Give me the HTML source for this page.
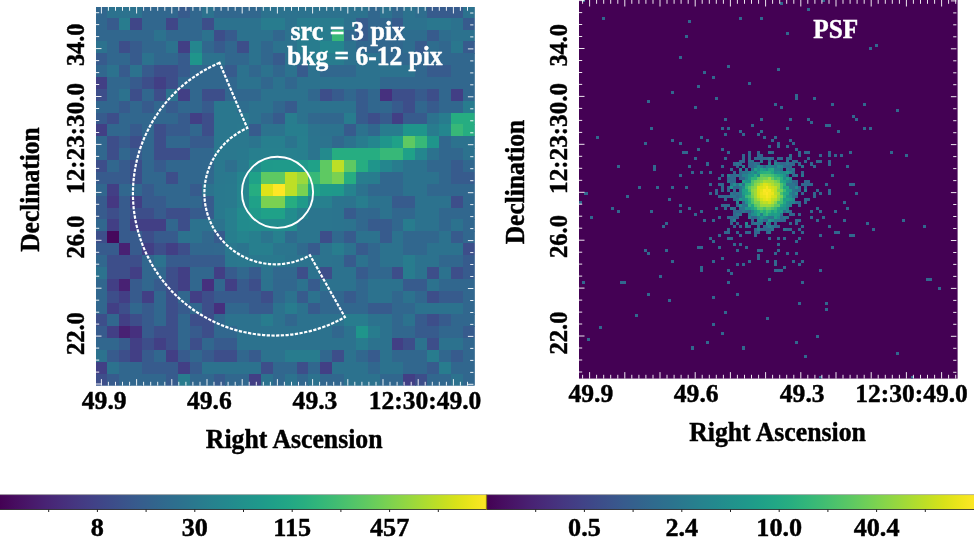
<!DOCTYPE html>
<html><head><meta charset="utf-8"><title>PSF comparison</title>
<style>html,body{margin:0;padding:0;background:#fff}svg{display:block}text{font-family:"Liberation Serif",serif;font-weight:bold}</style></head>
<body>
<svg width="974" height="537" viewBox="0 0 974 537">
<defs>
<clipPath id="cl"><rect x="96" y="7" width="378.6" height="378.6"/></clipPath>
<clipPath id="cr"><rect x="579" y="0" width="378.6" height="378.6"/></clipPath>
<linearGradient id="vg" x1="0" y1="0" x2="1" y2="0"><stop offset="0.0000" stop-color="#440154"/><stop offset="0.0312" stop-color="#470d60"/><stop offset="0.0625" stop-color="#48186a"/><stop offset="0.0938" stop-color="#482374"/><stop offset="0.1250" stop-color="#472d7b"/><stop offset="0.1562" stop-color="#453781"/><stop offset="0.1875" stop-color="#424086"/><stop offset="0.2188" stop-color="#3e4989"/><stop offset="0.2500" stop-color="#3b528b"/><stop offset="0.2812" stop-color="#375b8d"/><stop offset="0.3125" stop-color="#33638d"/><stop offset="0.3438" stop-color="#2f6b8e"/><stop offset="0.3750" stop-color="#2c728e"/><stop offset="0.4062" stop-color="#297a8e"/><stop offset="0.4375" stop-color="#26828e"/><stop offset="0.4688" stop-color="#23898e"/><stop offset="0.5000" stop-color="#21918c"/><stop offset="0.5312" stop-color="#1f988b"/><stop offset="0.5625" stop-color="#1fa088"/><stop offset="0.5938" stop-color="#22a785"/><stop offset="0.6250" stop-color="#28ae80"/><stop offset="0.6562" stop-color="#32b67a"/><stop offset="0.6875" stop-color="#3fbc73"/><stop offset="0.7188" stop-color="#4ec36b"/><stop offset="0.7500" stop-color="#5ec962"/><stop offset="0.7812" stop-color="#70cf57"/><stop offset="0.8125" stop-color="#84d44b"/><stop offset="0.8438" stop-color="#98d83e"/><stop offset="0.8750" stop-color="#addc30"/><stop offset="0.9062" stop-color="#c2df23"/><stop offset="0.9375" stop-color="#d8e219"/><stop offset="0.9688" stop-color="#ece51b"/><stop offset="1.0000" stop-color="#fde725"/></linearGradient>
</defs>
<rect width="974" height="537" fill="#fff"/>
<g clip-path="url(#cl)" shape-rendering="crispEdges">
<rect x="96" y="7" width="379" height="379" fill="#31668e"/>
<rect x="94.83" y="5.76" width="12.17" height="12.17" fill="#31678e"/>
<rect x="106.70" y="5.76" width="12.17" height="12.17" fill="#2c728e"/>
<rect x="118.57" y="5.76" width="12.17" height="12.17" fill="#2c728e"/>
<rect x="130.44" y="5.76" width="12.17" height="12.17" fill="#2c728e"/>
<rect x="142.31" y="5.76" width="12.17" height="12.17" fill="#31678e"/>
<rect x="154.18" y="5.76" width="12.17" height="12.17" fill="#31678e"/>
<rect x="166.05" y="5.76" width="12.17" height="12.17" fill="#31678e"/>
<rect x="177.92" y="5.76" width="12.17" height="12.17" fill="#375b8d"/>
<rect x="189.79" y="5.76" width="12.17" height="12.17" fill="#31678e"/>
<rect x="201.66" y="5.76" width="12.17" height="12.17" fill="#2c728e"/>
<rect x="213.53" y="5.76" width="12.17" height="12.17" fill="#31678e"/>
<rect x="225.40" y="5.76" width="12.17" height="12.17" fill="#31678e"/>
<rect x="237.27" y="5.76" width="12.17" height="12.17" fill="#31678e"/>
<rect x="249.14" y="5.76" width="12.17" height="12.17" fill="#31678e"/>
<rect x="261.01" y="5.76" width="12.17" height="12.17" fill="#2c728e"/>
<rect x="272.88" y="5.76" width="12.17" height="12.17" fill="#2c728e"/>
<rect x="284.75" y="5.76" width="12.17" height="12.17" fill="#2c728e"/>
<rect x="296.62" y="5.76" width="12.17" height="12.17" fill="#2c728e"/>
<rect x="308.49" y="5.76" width="12.17" height="12.17" fill="#2c728e"/>
<rect x="320.36" y="5.76" width="12.17" height="12.17" fill="#2c728e"/>
<rect x="332.23" y="5.76" width="12.17" height="12.17" fill="#2c728e"/>
<rect x="344.10" y="5.76" width="12.17" height="12.17" fill="#2c728e"/>
<rect x="355.97" y="5.76" width="12.17" height="12.17" fill="#2c728e"/>
<rect x="367.84" y="5.76" width="12.17" height="12.17" fill="#31678e"/>
<rect x="379.71" y="5.76" width="12.17" height="12.17" fill="#2c728e"/>
<rect x="391.58" y="5.76" width="12.17" height="12.17" fill="#31678e"/>
<rect x="403.45" y="5.76" width="12.17" height="12.17" fill="#2c728e"/>
<rect x="415.32" y="5.76" width="12.17" height="12.17" fill="#2e6d8e"/>
<rect x="427.19" y="5.76" width="12.17" height="12.17" fill="#375b8d"/>
<rect x="439.06" y="5.76" width="12.17" height="12.17" fill="#375b8d"/>
<rect x="450.93" y="5.76" width="12.17" height="12.17" fill="#375b8d"/>
<rect x="462.80" y="5.76" width="12.17" height="12.17" fill="#2c728e"/>
<rect x="94.83" y="17.63" width="12.17" height="12.17" fill="#31678e"/>
<rect x="106.70" y="17.63" width="12.17" height="12.17" fill="#375b8d"/>
<rect x="118.57" y="17.63" width="12.17" height="12.17" fill="#287c8e"/>
<rect x="130.44" y="17.63" width="12.17" height="12.17" fill="#404688"/>
<rect x="142.31" y="17.63" width="12.17" height="12.17" fill="#31678e"/>
<rect x="154.18" y="17.63" width="12.17" height="12.17" fill="#31678e"/>
<rect x="166.05" y="17.63" width="12.17" height="12.17" fill="#404688"/>
<rect x="177.92" y="17.63" width="12.17" height="12.17" fill="#31678e"/>
<rect x="189.79" y="17.63" width="12.17" height="12.17" fill="#31678e"/>
<rect x="201.66" y="17.63" width="12.17" height="12.17" fill="#3d4e8a"/>
<rect x="213.53" y="17.63" width="12.17" height="12.17" fill="#2c728e"/>
<rect x="225.40" y="17.63" width="12.17" height="12.17" fill="#2c728e"/>
<rect x="237.27" y="17.63" width="12.17" height="12.17" fill="#2c728e"/>
<rect x="249.14" y="17.63" width="12.17" height="12.17" fill="#2c728e"/>
<rect x="261.01" y="17.63" width="12.17" height="12.17" fill="#287c8e"/>
<rect x="272.88" y="17.63" width="12.17" height="12.17" fill="#287c8e"/>
<rect x="284.75" y="17.63" width="12.17" height="12.17" fill="#2c728e"/>
<rect x="296.62" y="17.63" width="12.17" height="12.17" fill="#287c8e"/>
<rect x="308.49" y="17.63" width="12.17" height="12.17" fill="#287c8e"/>
<rect x="320.36" y="17.63" width="12.17" height="12.17" fill="#287c8e"/>
<rect x="332.23" y="17.63" width="12.17" height="12.17" fill="#287c8e"/>
<rect x="344.10" y="17.63" width="12.17" height="12.17" fill="#2c728e"/>
<rect x="355.97" y="17.63" width="12.17" height="12.17" fill="#375b8d"/>
<rect x="367.84" y="17.63" width="12.17" height="12.17" fill="#31678e"/>
<rect x="379.71" y="17.63" width="12.17" height="12.17" fill="#31678e"/>
<rect x="391.58" y="17.63" width="12.17" height="12.17" fill="#375b8d"/>
<rect x="403.45" y="17.63" width="12.17" height="12.17" fill="#2c728e"/>
<rect x="415.32" y="17.63" width="12.17" height="12.17" fill="#2c728e"/>
<rect x="427.19" y="17.63" width="12.17" height="12.17" fill="#2a778e"/>
<rect x="439.06" y="17.63" width="12.17" height="12.17" fill="#2a778e"/>
<rect x="450.93" y="17.63" width="12.17" height="12.17" fill="#2c728e"/>
<rect x="462.80" y="17.63" width="12.17" height="12.17" fill="#375b8d"/>
<rect x="94.83" y="29.50" width="12.17" height="12.17" fill="#31678e"/>
<rect x="106.70" y="29.50" width="12.17" height="12.17" fill="#31678e"/>
<rect x="118.57" y="29.50" width="12.17" height="12.17" fill="#31678e"/>
<rect x="130.44" y="29.50" width="12.17" height="12.17" fill="#31678e"/>
<rect x="142.31" y="29.50" width="12.17" height="12.17" fill="#31678e"/>
<rect x="154.18" y="29.50" width="12.17" height="12.17" fill="#2c728e"/>
<rect x="166.05" y="29.50" width="12.17" height="12.17" fill="#31678e"/>
<rect x="177.92" y="29.50" width="12.17" height="12.17" fill="#31678e"/>
<rect x="189.79" y="29.50" width="12.17" height="12.17" fill="#31678e"/>
<rect x="201.66" y="29.50" width="12.17" height="12.17" fill="#2c728e"/>
<rect x="213.53" y="29.50" width="12.17" height="12.17" fill="#3d4e8a"/>
<rect x="225.40" y="29.50" width="12.17" height="12.17" fill="#375b8d"/>
<rect x="237.27" y="29.50" width="12.17" height="12.17" fill="#2c728e"/>
<rect x="249.14" y="29.50" width="12.17" height="12.17" fill="#2c728e"/>
<rect x="261.01" y="29.50" width="12.17" height="12.17" fill="#2c728e"/>
<rect x="272.88" y="29.50" width="12.17" height="12.17" fill="#31678e"/>
<rect x="284.75" y="29.50" width="12.17" height="12.17" fill="#2c728e"/>
<rect x="296.62" y="29.50" width="12.17" height="12.17" fill="#287c8e"/>
<rect x="308.49" y="29.50" width="12.17" height="12.17" fill="#287c8e"/>
<rect x="320.36" y="29.50" width="12.17" height="12.17" fill="#287c8e"/>
<rect x="332.23" y="29.50" width="12.17" height="12.17" fill="#37b878"/>
<rect x="344.10" y="29.50" width="12.17" height="12.17" fill="#31678e"/>
<rect x="355.97" y="29.50" width="12.17" height="12.17" fill="#375b8d"/>
<rect x="367.84" y="29.50" width="12.17" height="12.17" fill="#31678e"/>
<rect x="379.71" y="29.50" width="12.17" height="12.17" fill="#31678e"/>
<rect x="391.58" y="29.50" width="12.17" height="12.17" fill="#31678e"/>
<rect x="403.45" y="29.50" width="12.17" height="12.17" fill="#2e6d8e"/>
<rect x="415.32" y="29.50" width="12.17" height="12.17" fill="#2e6d8e"/>
<rect x="427.19" y="29.50" width="12.17" height="12.17" fill="#375b8d"/>
<rect x="439.06" y="29.50" width="12.17" height="12.17" fill="#2e6d8e"/>
<rect x="450.93" y="29.50" width="12.17" height="12.17" fill="#2c728e"/>
<rect x="462.80" y="29.50" width="12.17" height="12.17" fill="#2c728e"/>
<rect x="94.83" y="41.37" width="12.17" height="12.17" fill="#2c728e"/>
<rect x="106.70" y="41.37" width="12.17" height="12.17" fill="#31678e"/>
<rect x="118.57" y="41.37" width="12.17" height="12.17" fill="#3d4e8a"/>
<rect x="130.44" y="41.37" width="12.17" height="12.17" fill="#375b8d"/>
<rect x="142.31" y="41.37" width="12.17" height="12.17" fill="#31678e"/>
<rect x="154.18" y="41.37" width="12.17" height="12.17" fill="#31678e"/>
<rect x="166.05" y="41.37" width="12.17" height="12.17" fill="#2c728e"/>
<rect x="177.92" y="41.37" width="12.17" height="12.17" fill="#423f85"/>
<rect x="189.79" y="41.37" width="12.17" height="12.17" fill="#24868e"/>
<rect x="201.66" y="41.37" width="12.17" height="12.17" fill="#31678e"/>
<rect x="213.53" y="41.37" width="12.17" height="12.17" fill="#375b8d"/>
<rect x="225.40" y="41.37" width="12.17" height="12.17" fill="#31678e"/>
<rect x="237.27" y="41.37" width="12.17" height="12.17" fill="#3d4e8a"/>
<rect x="249.14" y="41.37" width="12.17" height="12.17" fill="#2c728e"/>
<rect x="261.01" y="41.37" width="12.17" height="12.17" fill="#31678e"/>
<rect x="272.88" y="41.37" width="12.17" height="12.17" fill="#2c728e"/>
<rect x="284.75" y="41.37" width="12.17" height="12.17" fill="#2c728e"/>
<rect x="296.62" y="41.37" width="12.17" height="12.17" fill="#287c8e"/>
<rect x="308.49" y="41.37" width="12.17" height="12.17" fill="#287c8e"/>
<rect x="320.36" y="41.37" width="12.17" height="12.17" fill="#24868e"/>
<rect x="332.23" y="41.37" width="12.17" height="12.17" fill="#24868e"/>
<rect x="344.10" y="41.37" width="12.17" height="12.17" fill="#2c728e"/>
<rect x="355.97" y="41.37" width="12.17" height="12.17" fill="#31678e"/>
<rect x="367.84" y="41.37" width="12.17" height="12.17" fill="#31678e"/>
<rect x="379.71" y="41.37" width="12.17" height="12.17" fill="#31678e"/>
<rect x="391.58" y="41.37" width="12.17" height="12.17" fill="#31678e"/>
<rect x="403.45" y="41.37" width="12.17" height="12.17" fill="#2e6d8e"/>
<rect x="415.32" y="41.37" width="12.17" height="12.17" fill="#375b8d"/>
<rect x="427.19" y="41.37" width="12.17" height="12.17" fill="#2e6d8e"/>
<rect x="439.06" y="41.37" width="12.17" height="12.17" fill="#31678e"/>
<rect x="450.93" y="41.37" width="12.17" height="12.17" fill="#2a778e"/>
<rect x="462.80" y="41.37" width="12.17" height="12.17" fill="#375b8d"/>
<rect x="94.83" y="53.24" width="12.17" height="12.17" fill="#375b8d"/>
<rect x="106.70" y="53.24" width="12.17" height="12.17" fill="#31678e"/>
<rect x="118.57" y="53.24" width="12.17" height="12.17" fill="#31678e"/>
<rect x="130.44" y="53.24" width="12.17" height="12.17" fill="#375b8d"/>
<rect x="142.31" y="53.24" width="12.17" height="12.17" fill="#2c728e"/>
<rect x="154.18" y="53.24" width="12.17" height="12.17" fill="#31678e"/>
<rect x="166.05" y="53.24" width="12.17" height="12.17" fill="#31678e"/>
<rect x="177.92" y="53.24" width="12.17" height="12.17" fill="#375b8d"/>
<rect x="189.79" y="53.24" width="12.17" height="12.17" fill="#1f958b"/>
<rect x="201.66" y="53.24" width="12.17" height="12.17" fill="#2c728e"/>
<rect x="213.53" y="53.24" width="12.17" height="12.17" fill="#2c728e"/>
<rect x="225.40" y="53.24" width="12.17" height="12.17" fill="#31678e"/>
<rect x="237.27" y="53.24" width="12.17" height="12.17" fill="#31678e"/>
<rect x="249.14" y="53.24" width="12.17" height="12.17" fill="#2c728e"/>
<rect x="261.01" y="53.24" width="12.17" height="12.17" fill="#31678e"/>
<rect x="272.88" y="53.24" width="12.17" height="12.17" fill="#375b8d"/>
<rect x="284.75" y="53.24" width="12.17" height="12.17" fill="#2c728e"/>
<rect x="296.62" y="53.24" width="12.17" height="12.17" fill="#2c728e"/>
<rect x="308.49" y="53.24" width="12.17" height="12.17" fill="#287c8e"/>
<rect x="320.36" y="53.24" width="12.17" height="12.17" fill="#287c8e"/>
<rect x="332.23" y="53.24" width="12.17" height="12.17" fill="#287c8e"/>
<rect x="344.10" y="53.24" width="12.17" height="12.17" fill="#2c728e"/>
<rect x="355.97" y="53.24" width="12.17" height="12.17" fill="#2c728e"/>
<rect x="367.84" y="53.24" width="12.17" height="12.17" fill="#2c728e"/>
<rect x="379.71" y="53.24" width="12.17" height="12.17" fill="#31678e"/>
<rect x="391.58" y="53.24" width="12.17" height="12.17" fill="#31678e"/>
<rect x="403.45" y="53.24" width="12.17" height="12.17" fill="#31678e"/>
<rect x="415.32" y="53.24" width="12.17" height="12.17" fill="#31678e"/>
<rect x="427.19" y="53.24" width="12.17" height="12.17" fill="#31678e"/>
<rect x="439.06" y="53.24" width="12.17" height="12.17" fill="#31678e"/>
<rect x="450.93" y="53.24" width="12.17" height="12.17" fill="#31678e"/>
<rect x="462.80" y="53.24" width="12.17" height="12.17" fill="#31678e"/>
<rect x="94.83" y="65.11" width="12.17" height="12.17" fill="#31678e"/>
<rect x="106.70" y="65.11" width="12.17" height="12.17" fill="#2c728e"/>
<rect x="118.57" y="65.11" width="12.17" height="12.17" fill="#375b8d"/>
<rect x="130.44" y="65.11" width="12.17" height="12.17" fill="#2c728e"/>
<rect x="142.31" y="65.11" width="12.17" height="12.17" fill="#375b8d"/>
<rect x="154.18" y="65.11" width="12.17" height="12.17" fill="#3d4e8a"/>
<rect x="166.05" y="65.11" width="12.17" height="12.17" fill="#3d4e8a"/>
<rect x="177.92" y="65.11" width="12.17" height="12.17" fill="#375b8d"/>
<rect x="189.79" y="65.11" width="12.17" height="12.17" fill="#31678e"/>
<rect x="201.66" y="65.11" width="12.17" height="12.17" fill="#31678e"/>
<rect x="213.53" y="65.11" width="12.17" height="12.17" fill="#31678e"/>
<rect x="225.40" y="65.11" width="12.17" height="12.17" fill="#375b8d"/>
<rect x="237.27" y="65.11" width="12.17" height="12.17" fill="#2c728e"/>
<rect x="249.14" y="65.11" width="12.17" height="12.17" fill="#31678e"/>
<rect x="261.01" y="65.11" width="12.17" height="12.17" fill="#2c728e"/>
<rect x="272.88" y="65.11" width="12.17" height="12.17" fill="#31678e"/>
<rect x="284.75" y="65.11" width="12.17" height="12.17" fill="#2c728e"/>
<rect x="296.62" y="65.11" width="12.17" height="12.17" fill="#375b8d"/>
<rect x="308.49" y="65.11" width="12.17" height="12.17" fill="#2c728e"/>
<rect x="320.36" y="65.11" width="12.17" height="12.17" fill="#31678e"/>
<rect x="332.23" y="65.11" width="12.17" height="12.17" fill="#31678e"/>
<rect x="344.10" y="65.11" width="12.17" height="12.17" fill="#31678e"/>
<rect x="355.97" y="65.11" width="12.17" height="12.17" fill="#2c728e"/>
<rect x="367.84" y="65.11" width="12.17" height="12.17" fill="#2c728e"/>
<rect x="379.71" y="65.11" width="12.17" height="12.17" fill="#2c728e"/>
<rect x="391.58" y="65.11" width="12.17" height="12.17" fill="#2c728e"/>
<rect x="403.45" y="65.11" width="12.17" height="12.17" fill="#2c728e"/>
<rect x="415.32" y="65.11" width="12.17" height="12.17" fill="#31678e"/>
<rect x="427.19" y="65.11" width="12.17" height="12.17" fill="#375b8d"/>
<rect x="439.06" y="65.11" width="12.17" height="12.17" fill="#375b8d"/>
<rect x="450.93" y="65.11" width="12.17" height="12.17" fill="#31678e"/>
<rect x="462.80" y="65.11" width="12.17" height="12.17" fill="#31678e"/>
<rect x="94.83" y="76.98" width="12.17" height="12.17" fill="#423f85"/>
<rect x="106.70" y="76.98" width="12.17" height="12.17" fill="#31678e"/>
<rect x="118.57" y="76.98" width="12.17" height="12.17" fill="#31678e"/>
<rect x="130.44" y="76.98" width="12.17" height="12.17" fill="#375b8d"/>
<rect x="142.31" y="76.98" width="12.17" height="12.17" fill="#3d4e8a"/>
<rect x="154.18" y="76.98" width="12.17" height="12.17" fill="#423f85"/>
<rect x="166.05" y="76.98" width="12.17" height="12.17" fill="#3d4e8a"/>
<rect x="177.92" y="76.98" width="12.17" height="12.17" fill="#31678e"/>
<rect x="189.79" y="76.98" width="12.17" height="12.17" fill="#31678e"/>
<rect x="201.66" y="76.98" width="12.17" height="12.17" fill="#31678e"/>
<rect x="213.53" y="76.98" width="12.17" height="12.17" fill="#31678e"/>
<rect x="225.40" y="76.98" width="12.17" height="12.17" fill="#31678e"/>
<rect x="237.27" y="76.98" width="12.17" height="12.17" fill="#2c728e"/>
<rect x="249.14" y="76.98" width="12.17" height="12.17" fill="#2c728e"/>
<rect x="261.01" y="76.98" width="12.17" height="12.17" fill="#31678e"/>
<rect x="272.88" y="76.98" width="12.17" height="12.17" fill="#2c728e"/>
<rect x="284.75" y="76.98" width="12.17" height="12.17" fill="#31678e"/>
<rect x="296.62" y="76.98" width="12.17" height="12.17" fill="#2c728e"/>
<rect x="308.49" y="76.98" width="12.17" height="12.17" fill="#2c728e"/>
<rect x="320.36" y="76.98" width="12.17" height="12.17" fill="#2c728e"/>
<rect x="332.23" y="76.98" width="12.17" height="12.17" fill="#2c728e"/>
<rect x="344.10" y="76.98" width="12.17" height="12.17" fill="#2c728e"/>
<rect x="355.97" y="76.98" width="12.17" height="12.17" fill="#2c728e"/>
<rect x="367.84" y="76.98" width="12.17" height="12.17" fill="#2c728e"/>
<rect x="379.71" y="76.98" width="12.17" height="12.17" fill="#31678e"/>
<rect x="391.58" y="76.98" width="12.17" height="12.17" fill="#31678e"/>
<rect x="403.45" y="76.98" width="12.17" height="12.17" fill="#31678e"/>
<rect x="415.32" y="76.98" width="12.17" height="12.17" fill="#31678e"/>
<rect x="427.19" y="76.98" width="12.17" height="12.17" fill="#31678e"/>
<rect x="439.06" y="76.98" width="12.17" height="12.17" fill="#31678e"/>
<rect x="450.93" y="76.98" width="12.17" height="12.17" fill="#31678e"/>
<rect x="462.80" y="76.98" width="12.17" height="12.17" fill="#31678e"/>
<rect x="94.83" y="88.85" width="12.17" height="12.17" fill="#3d4e8a"/>
<rect x="106.70" y="88.85" width="12.17" height="12.17" fill="#31678e"/>
<rect x="118.57" y="88.85" width="12.17" height="12.17" fill="#2c728e"/>
<rect x="130.44" y="88.85" width="12.17" height="12.17" fill="#3d4e8a"/>
<rect x="142.31" y="88.85" width="12.17" height="12.17" fill="#31678e"/>
<rect x="154.18" y="88.85" width="12.17" height="12.17" fill="#3d4e8a"/>
<rect x="166.05" y="88.85" width="12.17" height="12.17" fill="#2c728e"/>
<rect x="177.92" y="88.85" width="12.17" height="12.17" fill="#423f85"/>
<rect x="189.79" y="88.85" width="12.17" height="12.17" fill="#31678e"/>
<rect x="201.66" y="88.85" width="12.17" height="12.17" fill="#3d4e8a"/>
<rect x="213.53" y="88.85" width="12.17" height="12.17" fill="#3d4e8a"/>
<rect x="225.40" y="88.85" width="12.17" height="12.17" fill="#31678e"/>
<rect x="237.27" y="88.85" width="12.17" height="12.17" fill="#31678e"/>
<rect x="249.14" y="88.85" width="12.17" height="12.17" fill="#31678e"/>
<rect x="261.01" y="88.85" width="12.17" height="12.17" fill="#2c728e"/>
<rect x="272.88" y="88.85" width="12.17" height="12.17" fill="#2c728e"/>
<rect x="284.75" y="88.85" width="12.17" height="12.17" fill="#2c728e"/>
<rect x="296.62" y="88.85" width="12.17" height="12.17" fill="#2c728e"/>
<rect x="308.49" y="88.85" width="12.17" height="12.17" fill="#31678e"/>
<rect x="320.36" y="88.85" width="12.17" height="12.17" fill="#3d4e8a"/>
<rect x="332.23" y="88.85" width="12.17" height="12.17" fill="#375b8d"/>
<rect x="344.10" y="88.85" width="12.17" height="12.17" fill="#31678e"/>
<rect x="355.97" y="88.85" width="12.17" height="12.17" fill="#375b8d"/>
<rect x="367.84" y="88.85" width="12.17" height="12.17" fill="#31678e"/>
<rect x="379.71" y="88.85" width="12.17" height="12.17" fill="#46307e"/>
<rect x="391.58" y="88.85" width="12.17" height="12.17" fill="#3d4e8a"/>
<rect x="403.45" y="88.85" width="12.17" height="12.17" fill="#3d4e8a"/>
<rect x="415.32" y="88.85" width="12.17" height="12.17" fill="#375b8d"/>
<rect x="427.19" y="88.85" width="12.17" height="12.17" fill="#3d4e8a"/>
<rect x="439.06" y="88.85" width="12.17" height="12.17" fill="#31678e"/>
<rect x="450.93" y="88.85" width="12.17" height="12.17" fill="#423f85"/>
<rect x="462.80" y="88.85" width="12.17" height="12.17" fill="#31678e"/>
<rect x="94.83" y="100.72" width="12.17" height="12.17" fill="#31678e"/>
<rect x="106.70" y="100.72" width="12.17" height="12.17" fill="#31678e"/>
<rect x="118.57" y="100.72" width="12.17" height="12.17" fill="#375b8d"/>
<rect x="130.44" y="100.72" width="12.17" height="12.17" fill="#31678e"/>
<rect x="142.31" y="100.72" width="12.17" height="12.17" fill="#375b8d"/>
<rect x="154.18" y="100.72" width="12.17" height="12.17" fill="#31678e"/>
<rect x="166.05" y="100.72" width="12.17" height="12.17" fill="#375b8d"/>
<rect x="177.92" y="100.72" width="12.17" height="12.17" fill="#31678e"/>
<rect x="189.79" y="100.72" width="12.17" height="12.17" fill="#31678e"/>
<rect x="201.66" y="100.72" width="12.17" height="12.17" fill="#375b8d"/>
<rect x="213.53" y="100.72" width="12.17" height="12.17" fill="#2a778e"/>
<rect x="225.40" y="100.72" width="12.17" height="12.17" fill="#2a778e"/>
<rect x="237.27" y="100.72" width="12.17" height="12.17" fill="#2e6d8e"/>
<rect x="249.14" y="100.72" width="12.17" height="12.17" fill="#2c728e"/>
<rect x="261.01" y="100.72" width="12.17" height="12.17" fill="#2c728e"/>
<rect x="272.88" y="100.72" width="12.17" height="12.17" fill="#31678e"/>
<rect x="284.75" y="100.72" width="12.17" height="12.17" fill="#375b8d"/>
<rect x="296.62" y="100.72" width="12.17" height="12.17" fill="#2c728e"/>
<rect x="308.49" y="100.72" width="12.17" height="12.17" fill="#2c728e"/>
<rect x="320.36" y="100.72" width="12.17" height="12.17" fill="#2c728e"/>
<rect x="332.23" y="100.72" width="12.17" height="12.17" fill="#2c728e"/>
<rect x="344.10" y="100.72" width="12.17" height="12.17" fill="#2c728e"/>
<rect x="355.97" y="100.72" width="12.17" height="12.17" fill="#375b8d"/>
<rect x="367.84" y="100.72" width="12.17" height="12.17" fill="#31678e"/>
<rect x="379.71" y="100.72" width="12.17" height="12.17" fill="#31678e"/>
<rect x="391.58" y="100.72" width="12.17" height="12.17" fill="#375b8d"/>
<rect x="403.45" y="100.72" width="12.17" height="12.17" fill="#3d4e8a"/>
<rect x="415.32" y="100.72" width="12.17" height="12.17" fill="#31678e"/>
<rect x="427.19" y="100.72" width="12.17" height="12.17" fill="#375b8d"/>
<rect x="439.06" y="100.72" width="12.17" height="12.17" fill="#31678e"/>
<rect x="450.93" y="100.72" width="12.17" height="12.17" fill="#31678e"/>
<rect x="462.80" y="100.72" width="12.17" height="12.17" fill="#287c8e"/>
<rect x="94.83" y="112.59" width="12.17" height="12.17" fill="#375b8d"/>
<rect x="106.70" y="112.59" width="12.17" height="12.17" fill="#3d4e8a"/>
<rect x="118.57" y="112.59" width="12.17" height="12.17" fill="#31678e"/>
<rect x="130.44" y="112.59" width="12.17" height="12.17" fill="#31678e"/>
<rect x="142.31" y="112.59" width="12.17" height="12.17" fill="#31678e"/>
<rect x="154.18" y="112.59" width="12.17" height="12.17" fill="#31678e"/>
<rect x="166.05" y="112.59" width="12.17" height="12.17" fill="#31678e"/>
<rect x="177.92" y="112.59" width="12.17" height="12.17" fill="#375b8d"/>
<rect x="189.79" y="112.59" width="12.17" height="12.17" fill="#423f85"/>
<rect x="201.66" y="112.59" width="12.17" height="12.17" fill="#3d4e8a"/>
<rect x="213.53" y="112.59" width="12.17" height="12.17" fill="#2a778e"/>
<rect x="225.40" y="112.59" width="12.17" height="12.17" fill="#2a778e"/>
<rect x="237.27" y="112.59" width="12.17" height="12.17" fill="#2a778e"/>
<rect x="249.14" y="112.59" width="12.17" height="12.17" fill="#2c728e"/>
<rect x="261.01" y="112.59" width="12.17" height="12.17" fill="#31688e"/>
<rect x="272.88" y="112.59" width="12.17" height="12.17" fill="#375b8d"/>
<rect x="284.75" y="112.59" width="12.17" height="12.17" fill="#287d8e"/>
<rect x="296.62" y="112.59" width="12.17" height="12.17" fill="#2c728e"/>
<rect x="308.49" y="112.59" width="12.17" height="12.17" fill="#31688e"/>
<rect x="320.36" y="112.59" width="12.17" height="12.17" fill="#31678e"/>
<rect x="332.23" y="112.59" width="12.17" height="12.17" fill="#31678e"/>
<rect x="344.10" y="112.59" width="12.17" height="12.17" fill="#287c8e"/>
<rect x="355.97" y="112.59" width="12.17" height="12.17" fill="#375b8d"/>
<rect x="367.84" y="112.59" width="12.17" height="12.17" fill="#3d4e8a"/>
<rect x="379.71" y="112.59" width="12.17" height="12.17" fill="#375b8d"/>
<rect x="391.58" y="112.59" width="12.17" height="12.17" fill="#423f85"/>
<rect x="403.45" y="112.59" width="12.17" height="12.17" fill="#375b8d"/>
<rect x="415.32" y="112.59" width="12.17" height="12.17" fill="#375b8d"/>
<rect x="427.19" y="112.59" width="12.17" height="12.17" fill="#2c728e"/>
<rect x="439.06" y="112.59" width="12.17" height="12.17" fill="#287c8e"/>
<rect x="450.93" y="112.59" width="12.17" height="12.17" fill="#26ad81"/>
<rect x="462.80" y="112.59" width="12.17" height="12.17" fill="#26ad81"/>
<rect x="94.83" y="124.46" width="12.17" height="12.17" fill="#423f85"/>
<rect x="106.70" y="124.46" width="12.17" height="12.17" fill="#31678e"/>
<rect x="118.57" y="124.46" width="12.17" height="12.17" fill="#31678e"/>
<rect x="130.44" y="124.46" width="12.17" height="12.17" fill="#375b8d"/>
<rect x="142.31" y="124.46" width="12.17" height="12.17" fill="#31678e"/>
<rect x="154.18" y="124.46" width="12.17" height="12.17" fill="#3d4e8a"/>
<rect x="166.05" y="124.46" width="12.17" height="12.17" fill="#375b8d"/>
<rect x="177.92" y="124.46" width="12.17" height="12.17" fill="#375b8d"/>
<rect x="189.79" y="124.46" width="12.17" height="12.17" fill="#31678e"/>
<rect x="201.66" y="124.46" width="12.17" height="12.17" fill="#3d4e8a"/>
<rect x="213.53" y="124.46" width="12.17" height="12.17" fill="#2a778e"/>
<rect x="225.40" y="124.46" width="12.17" height="12.17" fill="#2a778e"/>
<rect x="237.27" y="124.46" width="12.17" height="12.17" fill="#2a788e"/>
<rect x="249.14" y="124.46" width="12.17" height="12.17" fill="#375b8d"/>
<rect x="261.01" y="124.46" width="12.17" height="12.17" fill="#2c738e"/>
<rect x="272.88" y="124.46" width="12.17" height="12.17" fill="#2c738e"/>
<rect x="284.75" y="124.46" width="12.17" height="12.17" fill="#277e8e"/>
<rect x="296.62" y="124.46" width="12.17" height="12.17" fill="#277e8e"/>
<rect x="308.49" y="124.46" width="12.17" height="12.17" fill="#2c738e"/>
<rect x="320.36" y="124.46" width="12.17" height="12.17" fill="#2c728e"/>
<rect x="332.23" y="124.46" width="12.17" height="12.17" fill="#2c728e"/>
<rect x="344.10" y="124.46" width="12.17" height="12.17" fill="#375b8d"/>
<rect x="355.97" y="124.46" width="12.17" height="12.17" fill="#2c728e"/>
<rect x="367.84" y="124.46" width="12.17" height="12.17" fill="#31678e"/>
<rect x="379.71" y="124.46" width="12.17" height="12.17" fill="#287c8e"/>
<rect x="391.58" y="124.46" width="12.17" height="12.17" fill="#287c8e"/>
<rect x="403.45" y="124.46" width="12.17" height="12.17" fill="#1f958b"/>
<rect x="415.32" y="124.46" width="12.17" height="12.17" fill="#1f958b"/>
<rect x="427.19" y="124.46" width="12.17" height="12.17" fill="#287c8e"/>
<rect x="439.06" y="124.46" width="12.17" height="12.17" fill="#24868e"/>
<rect x="450.93" y="124.46" width="12.17" height="12.17" fill="#37b878"/>
<rect x="462.80" y="124.46" width="12.17" height="12.17" fill="#26ad81"/>
<rect x="94.83" y="136.33" width="12.17" height="12.17" fill="#31678e"/>
<rect x="106.70" y="136.33" width="12.17" height="12.17" fill="#3d4e8a"/>
<rect x="118.57" y="136.33" width="12.17" height="12.17" fill="#375b8d"/>
<rect x="130.44" y="136.33" width="12.17" height="12.17" fill="#3d4e8a"/>
<rect x="142.31" y="136.33" width="12.17" height="12.17" fill="#31678e"/>
<rect x="154.18" y="136.33" width="12.17" height="12.17" fill="#3d4e8a"/>
<rect x="166.05" y="136.33" width="12.17" height="12.17" fill="#31678e"/>
<rect x="177.92" y="136.33" width="12.17" height="12.17" fill="#31678e"/>
<rect x="189.79" y="136.33" width="12.17" height="12.17" fill="#375b8d"/>
<rect x="201.66" y="136.33" width="12.17" height="12.17" fill="#375b8d"/>
<rect x="213.53" y="136.33" width="12.17" height="12.17" fill="#2a778e"/>
<rect x="225.40" y="136.33" width="12.17" height="12.17" fill="#2a788e"/>
<rect x="237.27" y="136.33" width="12.17" height="12.17" fill="#2a788e"/>
<rect x="249.14" y="136.33" width="12.17" height="12.17" fill="#2b748e"/>
<rect x="261.01" y="136.33" width="12.17" height="12.17" fill="#277f8e"/>
<rect x="272.88" y="136.33" width="12.17" height="12.17" fill="#277f8e"/>
<rect x="284.75" y="136.33" width="12.17" height="12.17" fill="#2b748e"/>
<rect x="296.62" y="136.33" width="12.17" height="12.17" fill="#277f8e"/>
<rect x="308.49" y="136.33" width="12.17" height="12.17" fill="#2b748e"/>
<rect x="320.36" y="136.33" width="12.17" height="12.17" fill="#2c738e"/>
<rect x="332.23" y="136.33" width="12.17" height="12.17" fill="#31688e"/>
<rect x="344.10" y="136.33" width="12.17" height="12.17" fill="#2c728e"/>
<rect x="355.97" y="136.33" width="12.17" height="12.17" fill="#287c8e"/>
<rect x="367.84" y="136.33" width="12.17" height="12.17" fill="#24868e"/>
<rect x="379.71" y="136.33" width="12.17" height="12.17" fill="#1f958b"/>
<rect x="391.58" y="136.33" width="12.17" height="12.17" fill="#1fa188"/>
<rect x="403.45" y="136.33" width="12.17" height="12.17" fill="#5ec962"/>
<rect x="415.32" y="136.33" width="12.17" height="12.17" fill="#37b878"/>
<rect x="427.19" y="136.33" width="12.17" height="12.17" fill="#1f958b"/>
<rect x="439.06" y="136.33" width="12.17" height="12.17" fill="#31678e"/>
<rect x="450.93" y="136.33" width="12.17" height="12.17" fill="#2c728e"/>
<rect x="462.80" y="136.33" width="12.17" height="12.17" fill="#2c728e"/>
<rect x="94.83" y="148.20" width="12.17" height="12.17" fill="#31678e"/>
<rect x="106.70" y="148.20" width="12.17" height="12.17" fill="#3d4e8a"/>
<rect x="118.57" y="148.20" width="12.17" height="12.17" fill="#31678e"/>
<rect x="130.44" y="148.20" width="12.17" height="12.17" fill="#375b8d"/>
<rect x="142.31" y="148.20" width="12.17" height="12.17" fill="#31678e"/>
<rect x="154.18" y="148.20" width="12.17" height="12.17" fill="#3d4e8a"/>
<rect x="166.05" y="148.20" width="12.17" height="12.17" fill="#3d4e8a"/>
<rect x="177.92" y="148.20" width="12.17" height="12.17" fill="#3d4e8a"/>
<rect x="189.79" y="148.20" width="12.17" height="12.17" fill="#31678e"/>
<rect x="201.66" y="148.20" width="12.17" height="12.17" fill="#31678e"/>
<rect x="213.53" y="148.20" width="12.17" height="12.17" fill="#2a788e"/>
<rect x="225.40" y="148.20" width="12.17" height="12.17" fill="#2a788e"/>
<rect x="237.27" y="148.20" width="12.17" height="12.17" fill="#29798e"/>
<rect x="249.14" y="148.20" width="12.17" height="12.17" fill="#277f8e"/>
<rect x="261.01" y="148.20" width="12.17" height="12.17" fill="#27808e"/>
<rect x="272.88" y="148.20" width="12.17" height="12.17" fill="#27808e"/>
<rect x="284.75" y="148.20" width="12.17" height="12.17" fill="#27808e"/>
<rect x="296.62" y="148.20" width="12.17" height="12.17" fill="#277f8e"/>
<rect x="308.49" y="148.20" width="12.17" height="12.17" fill="#2b748e"/>
<rect x="320.36" y="148.20" width="12.17" height="12.17" fill="#238a8d"/>
<rect x="332.23" y="148.20" width="12.17" height="12.17" fill="#26ad81"/>
<rect x="344.10" y="148.20" width="12.17" height="12.17" fill="#26ad81"/>
<rect x="355.97" y="148.20" width="12.17" height="12.17" fill="#26ad81"/>
<rect x="367.84" y="148.20" width="12.17" height="12.17" fill="#26ad81"/>
<rect x="379.71" y="148.20" width="12.17" height="12.17" fill="#37b878"/>
<rect x="391.58" y="148.20" width="12.17" height="12.17" fill="#37b878"/>
<rect x="403.45" y="148.20" width="12.17" height="12.17" fill="#1fa188"/>
<rect x="415.32" y="148.20" width="12.17" height="12.17" fill="#24868e"/>
<rect x="427.19" y="148.20" width="12.17" height="12.17" fill="#2c728e"/>
<rect x="439.06" y="148.20" width="12.17" height="12.17" fill="#31678e"/>
<rect x="450.93" y="148.20" width="12.17" height="12.17" fill="#31678e"/>
<rect x="462.80" y="148.20" width="12.17" height="12.17" fill="#2c728e"/>
<rect x="94.83" y="160.07" width="12.17" height="12.17" fill="#3d4e8a"/>
<rect x="106.70" y="160.07" width="12.17" height="12.17" fill="#31678e"/>
<rect x="118.57" y="160.07" width="12.17" height="12.17" fill="#375b8d"/>
<rect x="130.44" y="160.07" width="12.17" height="12.17" fill="#3d4e8a"/>
<rect x="142.31" y="160.07" width="12.17" height="12.17" fill="#31678e"/>
<rect x="154.18" y="160.07" width="12.17" height="12.17" fill="#375b8d"/>
<rect x="166.05" y="160.07" width="12.17" height="12.17" fill="#31678e"/>
<rect x="177.92" y="160.07" width="12.17" height="12.17" fill="#31678e"/>
<rect x="189.79" y="160.07" width="12.17" height="12.17" fill="#31678e"/>
<rect x="201.66" y="160.07" width="12.17" height="12.17" fill="#31688e"/>
<rect x="213.53" y="160.07" width="12.17" height="12.17" fill="#2a788e"/>
<rect x="225.40" y="160.07" width="12.17" height="12.17" fill="#2e6f8e"/>
<rect x="237.27" y="160.07" width="12.17" height="12.17" fill="#297a8e"/>
<rect x="249.14" y="160.07" width="12.17" height="12.17" fill="#228c8d"/>
<rect x="261.01" y="160.07" width="12.17" height="12.17" fill="#1f998a"/>
<rect x="272.88" y="160.07" width="12.17" height="12.17" fill="#1f9a8a"/>
<rect x="284.75" y="160.07" width="12.17" height="12.17" fill="#1f9a8a"/>
<rect x="296.62" y="160.07" width="12.17" height="12.17" fill="#1f998a"/>
<rect x="308.49" y="160.07" width="12.17" height="12.17" fill="#1fa188"/>
<rect x="320.36" y="160.07" width="12.17" height="12.17" fill="#5ec962"/>
<rect x="332.23" y="160.07" width="12.17" height="12.17" fill="#bddf26"/>
<rect x="344.10" y="160.07" width="12.17" height="12.17" fill="#5ec962"/>
<rect x="355.97" y="160.07" width="12.17" height="12.17" fill="#26ad81"/>
<rect x="367.84" y="160.07" width="12.17" height="12.17" fill="#1f958b"/>
<rect x="379.71" y="160.07" width="12.17" height="12.17" fill="#24868e"/>
<rect x="391.58" y="160.07" width="12.17" height="12.17" fill="#287c8e"/>
<rect x="403.45" y="160.07" width="12.17" height="12.17" fill="#2c728e"/>
<rect x="415.32" y="160.07" width="12.17" height="12.17" fill="#2c728e"/>
<rect x="427.19" y="160.07" width="12.17" height="12.17" fill="#31678e"/>
<rect x="439.06" y="160.07" width="12.17" height="12.17" fill="#31678e"/>
<rect x="450.93" y="160.07" width="12.17" height="12.17" fill="#375b8d"/>
<rect x="462.80" y="160.07" width="12.17" height="12.17" fill="#31678e"/>
<rect x="94.83" y="171.94" width="12.17" height="12.17" fill="#375b8d"/>
<rect x="106.70" y="171.94" width="12.17" height="12.17" fill="#375b8d"/>
<rect x="118.57" y="171.94" width="12.17" height="12.17" fill="#375b8d"/>
<rect x="130.44" y="171.94" width="12.17" height="12.17" fill="#3d4e8a"/>
<rect x="142.31" y="171.94" width="12.17" height="12.17" fill="#31678e"/>
<rect x="154.18" y="171.94" width="12.17" height="12.17" fill="#31678e"/>
<rect x="166.05" y="171.94" width="12.17" height="12.17" fill="#3d4e8a"/>
<rect x="177.92" y="171.94" width="12.17" height="12.17" fill="#31678e"/>
<rect x="189.79" y="171.94" width="12.17" height="12.17" fill="#31678e"/>
<rect x="201.66" y="171.94" width="12.17" height="12.17" fill="#31688e"/>
<rect x="213.53" y="171.94" width="12.17" height="12.17" fill="#2a788e"/>
<rect x="225.40" y="171.94" width="12.17" height="12.17" fill="#29798e"/>
<rect x="237.27" y="171.94" width="12.17" height="12.17" fill="#25848e"/>
<rect x="249.14" y="171.94" width="12.17" height="12.17" fill="#1fa188"/>
<rect x="261.01" y="171.94" width="12.17" height="12.17" fill="#5ec962"/>
<rect x="272.88" y="171.94" width="12.17" height="12.17" fill="#5ec962"/>
<rect x="284.75" y="171.94" width="12.17" height="12.17" fill="#bddf26"/>
<rect x="296.62" y="171.94" width="12.17" height="12.17" fill="#9bd93c"/>
<rect x="308.49" y="171.94" width="12.17" height="12.17" fill="#37b878"/>
<rect x="320.36" y="171.94" width="12.17" height="12.17" fill="#5ec962"/>
<rect x="332.23" y="171.94" width="12.17" height="12.17" fill="#7ad151"/>
<rect x="344.10" y="171.94" width="12.17" height="12.17" fill="#26ad81"/>
<rect x="355.97" y="171.94" width="12.17" height="12.17" fill="#287d8e"/>
<rect x="367.84" y="171.94" width="12.17" height="12.17" fill="#287c8e"/>
<rect x="379.71" y="171.94" width="12.17" height="12.17" fill="#31678e"/>
<rect x="391.58" y="171.94" width="12.17" height="12.17" fill="#31678e"/>
<rect x="403.45" y="171.94" width="12.17" height="12.17" fill="#2c728e"/>
<rect x="415.32" y="171.94" width="12.17" height="12.17" fill="#2c728e"/>
<rect x="427.19" y="171.94" width="12.17" height="12.17" fill="#2c728e"/>
<rect x="439.06" y="171.94" width="12.17" height="12.17" fill="#31678e"/>
<rect x="450.93" y="171.94" width="12.17" height="12.17" fill="#375b8d"/>
<rect x="462.80" y="171.94" width="12.17" height="12.17" fill="#375b8d"/>
<rect x="94.83" y="183.81" width="12.17" height="12.17" fill="#31678e"/>
<rect x="106.70" y="183.81" width="12.17" height="12.17" fill="#423f85"/>
<rect x="118.57" y="183.81" width="12.17" height="12.17" fill="#31678e"/>
<rect x="130.44" y="183.81" width="12.17" height="12.17" fill="#31678e"/>
<rect x="142.31" y="183.81" width="12.17" height="12.17" fill="#375b8d"/>
<rect x="154.18" y="183.81" width="12.17" height="12.17" fill="#31678e"/>
<rect x="166.05" y="183.81" width="12.17" height="12.17" fill="#31678e"/>
<rect x="177.92" y="183.81" width="12.17" height="12.17" fill="#31678e"/>
<rect x="189.79" y="183.81" width="12.17" height="12.17" fill="#375b8d"/>
<rect x="201.66" y="183.81" width="12.17" height="12.17" fill="#2c738e"/>
<rect x="213.53" y="183.81" width="12.17" height="12.17" fill="#29798e"/>
<rect x="225.40" y="183.81" width="12.17" height="12.17" fill="#297a8e"/>
<rect x="237.27" y="183.81" width="12.17" height="12.17" fill="#25858e"/>
<rect x="249.14" y="183.81" width="12.17" height="12.17" fill="#26ad81"/>
<rect x="261.01" y="183.81" width="12.17" height="12.17" fill="#dfe318"/>
<rect x="272.88" y="183.81" width="12.17" height="12.17" fill="#fde725"/>
<rect x="284.75" y="183.81" width="12.17" height="12.17" fill="#bddf26"/>
<rect x="296.62" y="183.81" width="12.17" height="12.17" fill="#7ad151"/>
<rect x="308.49" y="183.81" width="12.17" height="12.17" fill="#1fa188"/>
<rect x="320.36" y="183.81" width="12.17" height="12.17" fill="#1f998a"/>
<rect x="332.23" y="183.81" width="12.17" height="12.17" fill="#1f988b"/>
<rect x="344.10" y="183.81" width="12.17" height="12.17" fill="#25838e"/>
<rect x="355.97" y="183.81" width="12.17" height="12.17" fill="#2c728e"/>
<rect x="367.84" y="183.81" width="12.17" height="12.17" fill="#31678e"/>
<rect x="379.71" y="183.81" width="12.17" height="12.17" fill="#31678e"/>
<rect x="391.58" y="183.81" width="12.17" height="12.17" fill="#31678e"/>
<rect x="403.45" y="183.81" width="12.17" height="12.17" fill="#2c728e"/>
<rect x="415.32" y="183.81" width="12.17" height="12.17" fill="#2c728e"/>
<rect x="427.19" y="183.81" width="12.17" height="12.17" fill="#31678e"/>
<rect x="439.06" y="183.81" width="12.17" height="12.17" fill="#31678e"/>
<rect x="450.93" y="183.81" width="12.17" height="12.17" fill="#31678e"/>
<rect x="462.80" y="183.81" width="12.17" height="12.17" fill="#31678e"/>
<rect x="94.83" y="195.68" width="12.17" height="12.17" fill="#375b8d"/>
<rect x="106.70" y="195.68" width="12.17" height="12.17" fill="#453882"/>
<rect x="118.57" y="195.68" width="12.17" height="12.17" fill="#375b8d"/>
<rect x="130.44" y="195.68" width="12.17" height="12.17" fill="#423f85"/>
<rect x="142.31" y="195.68" width="12.17" height="12.17" fill="#375b8d"/>
<rect x="154.18" y="195.68" width="12.17" height="12.17" fill="#375b8d"/>
<rect x="166.05" y="195.68" width="12.17" height="12.17" fill="#31678e"/>
<rect x="177.92" y="195.68" width="12.17" height="12.17" fill="#31678e"/>
<rect x="189.79" y="195.68" width="12.17" height="12.17" fill="#31678e"/>
<rect x="201.66" y="195.68" width="12.17" height="12.17" fill="#375b8d"/>
<rect x="213.53" y="195.68" width="12.17" height="12.17" fill="#29798e"/>
<rect x="225.40" y="195.68" width="12.17" height="12.17" fill="#297a8e"/>
<rect x="237.27" y="195.68" width="12.17" height="12.17" fill="#25858e"/>
<rect x="249.14" y="195.68" width="12.17" height="12.17" fill="#1fa188"/>
<rect x="261.01" y="195.68" width="12.17" height="12.17" fill="#7ad151"/>
<rect x="272.88" y="195.68" width="12.17" height="12.17" fill="#7ad151"/>
<rect x="284.75" y="195.68" width="12.17" height="12.17" fill="#26ad81"/>
<rect x="296.62" y="195.68" width="12.17" height="12.17" fill="#1f9a8a"/>
<rect x="308.49" y="195.68" width="12.17" height="12.17" fill="#27808e"/>
<rect x="320.36" y="195.68" width="12.17" height="12.17" fill="#27808e"/>
<rect x="332.23" y="195.68" width="12.17" height="12.17" fill="#2b748e"/>
<rect x="344.10" y="195.68" width="12.17" height="12.17" fill="#2c738e"/>
<rect x="355.97" y="195.68" width="12.17" height="12.17" fill="#287d8e"/>
<rect x="367.84" y="195.68" width="12.17" height="12.17" fill="#2c728e"/>
<rect x="379.71" y="195.68" width="12.17" height="12.17" fill="#2c728e"/>
<rect x="391.58" y="195.68" width="12.17" height="12.17" fill="#375b8d"/>
<rect x="403.45" y="195.68" width="12.17" height="12.17" fill="#375b8d"/>
<rect x="415.32" y="195.68" width="12.17" height="12.17" fill="#2c728e"/>
<rect x="427.19" y="195.68" width="12.17" height="12.17" fill="#2c728e"/>
<rect x="439.06" y="195.68" width="12.17" height="12.17" fill="#2c728e"/>
<rect x="450.93" y="195.68" width="12.17" height="12.17" fill="#3d4e8a"/>
<rect x="462.80" y="195.68" width="12.17" height="12.17" fill="#31678e"/>
<rect x="94.83" y="207.55" width="12.17" height="12.17" fill="#375b8d"/>
<rect x="106.70" y="207.55" width="12.17" height="12.17" fill="#3d4e8a"/>
<rect x="118.57" y="207.55" width="12.17" height="12.17" fill="#375b8d"/>
<rect x="130.44" y="207.55" width="12.17" height="12.17" fill="#3d4e8a"/>
<rect x="142.31" y="207.55" width="12.17" height="12.17" fill="#3d4e8a"/>
<rect x="154.18" y="207.55" width="12.17" height="12.17" fill="#375b8d"/>
<rect x="166.05" y="207.55" width="12.17" height="12.17" fill="#3d4e8a"/>
<rect x="177.92" y="207.55" width="12.17" height="12.17" fill="#3d4e8a"/>
<rect x="189.79" y="207.55" width="12.17" height="12.17" fill="#375b8d"/>
<rect x="201.66" y="207.55" width="12.17" height="12.17" fill="#375b8d"/>
<rect x="213.53" y="207.55" width="12.17" height="12.17" fill="#29798e"/>
<rect x="225.40" y="207.55" width="12.17" height="12.17" fill="#277f8e"/>
<rect x="237.27" y="207.55" width="12.17" height="12.17" fill="#228c8d"/>
<rect x="249.14" y="207.55" width="12.17" height="12.17" fill="#1f9a8a"/>
<rect x="261.01" y="207.55" width="12.17" height="12.17" fill="#1fa188"/>
<rect x="272.88" y="207.55" width="12.17" height="12.17" fill="#1fa188"/>
<rect x="284.75" y="207.55" width="12.17" height="12.17" fill="#228c8d"/>
<rect x="296.62" y="207.55" width="12.17" height="12.17" fill="#27808e"/>
<rect x="308.49" y="207.55" width="12.17" height="12.17" fill="#2b758e"/>
<rect x="320.36" y="207.55" width="12.17" height="12.17" fill="#2b758e"/>
<rect x="332.23" y="207.55" width="12.17" height="12.17" fill="#2b748e"/>
<rect x="344.10" y="207.55" width="12.17" height="12.17" fill="#375b8d"/>
<rect x="355.97" y="207.55" width="12.17" height="12.17" fill="#31688e"/>
<rect x="367.84" y="207.55" width="12.17" height="12.17" fill="#31678e"/>
<rect x="379.71" y="207.55" width="12.17" height="12.17" fill="#2c728e"/>
<rect x="391.58" y="207.55" width="12.17" height="12.17" fill="#31678e"/>
<rect x="403.45" y="207.55" width="12.17" height="12.17" fill="#31678e"/>
<rect x="415.32" y="207.55" width="12.17" height="12.17" fill="#2c728e"/>
<rect x="427.19" y="207.55" width="12.17" height="12.17" fill="#2c728e"/>
<rect x="439.06" y="207.55" width="12.17" height="12.17" fill="#31678e"/>
<rect x="450.93" y="207.55" width="12.17" height="12.17" fill="#31678e"/>
<rect x="462.80" y="207.55" width="12.17" height="12.17" fill="#31678e"/>
<rect x="94.83" y="219.42" width="12.17" height="12.17" fill="#31678e"/>
<rect x="106.70" y="219.42" width="12.17" height="12.17" fill="#423f85"/>
<rect x="118.57" y="219.42" width="12.17" height="12.17" fill="#375b8d"/>
<rect x="130.44" y="219.42" width="12.17" height="12.17" fill="#423f85"/>
<rect x="142.31" y="219.42" width="12.17" height="12.17" fill="#423f85"/>
<rect x="154.18" y="219.42" width="12.17" height="12.17" fill="#423f85"/>
<rect x="166.05" y="219.42" width="12.17" height="12.17" fill="#31678e"/>
<rect x="177.92" y="219.42" width="12.17" height="12.17" fill="#3d4e8a"/>
<rect x="189.79" y="219.42" width="12.17" height="12.17" fill="#2c728e"/>
<rect x="201.66" y="219.42" width="12.17" height="12.17" fill="#2c728e"/>
<rect x="213.53" y="219.42" width="12.17" height="12.17" fill="#2c738e"/>
<rect x="225.40" y="219.42" width="12.17" height="12.17" fill="#277f8e"/>
<rect x="237.27" y="219.42" width="12.17" height="12.17" fill="#228b8d"/>
<rect x="249.14" y="219.42" width="12.17" height="12.17" fill="#228c8d"/>
<rect x="261.01" y="219.42" width="12.17" height="12.17" fill="#228c8d"/>
<rect x="272.88" y="219.42" width="12.17" height="12.17" fill="#228c8d"/>
<rect x="284.75" y="219.42" width="12.17" height="12.17" fill="#228c8d"/>
<rect x="296.62" y="219.42" width="12.17" height="12.17" fill="#2b758e"/>
<rect x="308.49" y="219.42" width="12.17" height="12.17" fill="#2b758e"/>
<rect x="320.36" y="219.42" width="12.17" height="12.17" fill="#2b758e"/>
<rect x="332.23" y="219.42" width="12.17" height="12.17" fill="#2b748e"/>
<rect x="344.10" y="219.42" width="12.17" height="12.17" fill="#2c738e"/>
<rect x="355.97" y="219.42" width="12.17" height="12.17" fill="#31688e"/>
<rect x="367.84" y="219.42" width="12.17" height="12.17" fill="#375b8d"/>
<rect x="379.71" y="219.42" width="12.17" height="12.17" fill="#375b8d"/>
<rect x="391.58" y="219.42" width="12.17" height="12.17" fill="#31678e"/>
<rect x="403.45" y="219.42" width="12.17" height="12.17" fill="#287c8e"/>
<rect x="415.32" y="219.42" width="12.17" height="12.17" fill="#2c728e"/>
<rect x="427.19" y="219.42" width="12.17" height="12.17" fill="#2c728e"/>
<rect x="439.06" y="219.42" width="12.17" height="12.17" fill="#31678e"/>
<rect x="450.93" y="219.42" width="12.17" height="12.17" fill="#2c728e"/>
<rect x="462.80" y="219.42" width="12.17" height="12.17" fill="#31678e"/>
<rect x="94.83" y="231.29" width="12.17" height="12.17" fill="#3d4e8a"/>
<rect x="106.70" y="231.29" width="12.17" height="12.17" fill="#46085c"/>
<rect x="118.57" y="231.29" width="12.17" height="12.17" fill="#375b8d"/>
<rect x="130.44" y="231.29" width="12.17" height="12.17" fill="#375b8d"/>
<rect x="142.31" y="231.29" width="12.17" height="12.17" fill="#3d4e8a"/>
<rect x="154.18" y="231.29" width="12.17" height="12.17" fill="#375b8d"/>
<rect x="166.05" y="231.29" width="12.17" height="12.17" fill="#375b8d"/>
<rect x="177.92" y="231.29" width="12.17" height="12.17" fill="#2c728e"/>
<rect x="189.79" y="231.29" width="12.17" height="12.17" fill="#2c728e"/>
<rect x="201.66" y="231.29" width="12.17" height="12.17" fill="#31688e"/>
<rect x="213.53" y="231.29" width="12.17" height="12.17" fill="#375b8d"/>
<rect x="225.40" y="231.29" width="12.17" height="12.17" fill="#277e8e"/>
<rect x="237.27" y="231.29" width="12.17" height="12.17" fill="#25848e"/>
<rect x="249.14" y="231.29" width="12.17" height="12.17" fill="#277f8e"/>
<rect x="261.01" y="231.29" width="12.17" height="12.17" fill="#2b758e"/>
<rect x="272.88" y="231.29" width="12.17" height="12.17" fill="#27808e"/>
<rect x="284.75" y="231.29" width="12.17" height="12.17" fill="#2f6b8e"/>
<rect x="296.62" y="231.29" width="12.17" height="12.17" fill="#2b758e"/>
<rect x="308.49" y="231.29" width="12.17" height="12.17" fill="#2b758e"/>
<rect x="320.36" y="231.29" width="12.17" height="12.17" fill="#3d4e8a"/>
<rect x="332.23" y="231.29" width="12.17" height="12.17" fill="#30698e"/>
<rect x="344.10" y="231.29" width="12.17" height="12.17" fill="#375b8d"/>
<rect x="355.97" y="231.29" width="12.17" height="12.17" fill="#2c728e"/>
<rect x="367.84" y="231.29" width="12.17" height="12.17" fill="#2c728e"/>
<rect x="379.71" y="231.29" width="12.17" height="12.17" fill="#375b8d"/>
<rect x="391.58" y="231.29" width="12.17" height="12.17" fill="#2c728e"/>
<rect x="403.45" y="231.29" width="12.17" height="12.17" fill="#31678e"/>
<rect x="415.32" y="231.29" width="12.17" height="12.17" fill="#31678e"/>
<rect x="427.19" y="231.29" width="12.17" height="12.17" fill="#31678e"/>
<rect x="439.06" y="231.29" width="12.17" height="12.17" fill="#2c728e"/>
<rect x="450.93" y="231.29" width="12.17" height="12.17" fill="#375b8d"/>
<rect x="462.80" y="231.29" width="12.17" height="12.17" fill="#31678e"/>
<rect x="94.83" y="243.16" width="12.17" height="12.17" fill="#375b8d"/>
<rect x="106.70" y="243.16" width="12.17" height="12.17" fill="#375b8d"/>
<rect x="118.57" y="243.16" width="12.17" height="12.17" fill="#482173"/>
<rect x="130.44" y="243.16" width="12.17" height="12.17" fill="#375b8d"/>
<rect x="142.31" y="243.16" width="12.17" height="12.17" fill="#423f85"/>
<rect x="154.18" y="243.16" width="12.17" height="12.17" fill="#3d4e8a"/>
<rect x="166.05" y="243.16" width="12.17" height="12.17" fill="#423f85"/>
<rect x="177.92" y="243.16" width="12.17" height="12.17" fill="#3d4e8a"/>
<rect x="189.79" y="243.16" width="12.17" height="12.17" fill="#31678e"/>
<rect x="201.66" y="243.16" width="12.17" height="12.17" fill="#31678e"/>
<rect x="213.53" y="243.16" width="12.17" height="12.17" fill="#31688e"/>
<rect x="225.40" y="243.16" width="12.17" height="12.17" fill="#2a788e"/>
<rect x="237.27" y="243.16" width="12.17" height="12.17" fill="#2b748e"/>
<rect x="249.14" y="243.16" width="12.17" height="12.17" fill="#277f8e"/>
<rect x="261.01" y="243.16" width="12.17" height="12.17" fill="#277f8e"/>
<rect x="272.88" y="243.16" width="12.17" height="12.17" fill="#2b758e"/>
<rect x="284.75" y="243.16" width="12.17" height="12.17" fill="#2b758e"/>
<rect x="296.62" y="243.16" width="12.17" height="12.17" fill="#306a8e"/>
<rect x="308.49" y="243.16" width="12.17" height="12.17" fill="#375b8d"/>
<rect x="320.36" y="243.16" width="12.17" height="12.17" fill="#2c738e"/>
<rect x="332.23" y="243.16" width="12.17" height="12.17" fill="#287d8e"/>
<rect x="344.10" y="243.16" width="12.17" height="12.17" fill="#2c728e"/>
<rect x="355.97" y="243.16" width="12.17" height="12.17" fill="#375b8d"/>
<rect x="367.84" y="243.16" width="12.17" height="12.17" fill="#31678e"/>
<rect x="379.71" y="243.16" width="12.17" height="12.17" fill="#2c728e"/>
<rect x="391.58" y="243.16" width="12.17" height="12.17" fill="#2c728e"/>
<rect x="403.45" y="243.16" width="12.17" height="12.17" fill="#31678e"/>
<rect x="415.32" y="243.16" width="12.17" height="12.17" fill="#31678e"/>
<rect x="427.19" y="243.16" width="12.17" height="12.17" fill="#2c728e"/>
<rect x="439.06" y="243.16" width="12.17" height="12.17" fill="#2c728e"/>
<rect x="450.93" y="243.16" width="12.17" height="12.17" fill="#2c728e"/>
<rect x="462.80" y="243.16" width="12.17" height="12.17" fill="#3d4e8a"/>
<rect x="94.83" y="255.03" width="12.17" height="12.17" fill="#31678e"/>
<rect x="106.70" y="255.03" width="12.17" height="12.17" fill="#3d4e8a"/>
<rect x="118.57" y="255.03" width="12.17" height="12.17" fill="#3d4e8a"/>
<rect x="130.44" y="255.03" width="12.17" height="12.17" fill="#3d4e8a"/>
<rect x="142.31" y="255.03" width="12.17" height="12.17" fill="#31678e"/>
<rect x="154.18" y="255.03" width="12.17" height="12.17" fill="#2c728e"/>
<rect x="166.05" y="255.03" width="12.17" height="12.17" fill="#375b8d"/>
<rect x="177.92" y="255.03" width="12.17" height="12.17" fill="#375b8d"/>
<rect x="189.79" y="255.03" width="12.17" height="12.17" fill="#375b8d"/>
<rect x="201.66" y="255.03" width="12.17" height="12.17" fill="#375b8d"/>
<rect x="213.53" y="255.03" width="12.17" height="12.17" fill="#375b8d"/>
<rect x="225.40" y="255.03" width="12.17" height="12.17" fill="#2a778e"/>
<rect x="237.27" y="255.03" width="12.17" height="12.17" fill="#2a788e"/>
<rect x="249.14" y="255.03" width="12.17" height="12.17" fill="#2a788e"/>
<rect x="261.01" y="255.03" width="12.17" height="12.17" fill="#29798e"/>
<rect x="272.88" y="255.03" width="12.17" height="12.17" fill="#29798e"/>
<rect x="284.75" y="255.03" width="12.17" height="12.17" fill="#2b748e"/>
<rect x="296.62" y="255.03" width="12.17" height="12.17" fill="#2c738e"/>
<rect x="308.49" y="255.03" width="12.17" height="12.17" fill="#2c738e"/>
<rect x="320.36" y="255.03" width="12.17" height="12.17" fill="#2c738e"/>
<rect x="332.23" y="255.03" width="12.17" height="12.17" fill="#2c728e"/>
<rect x="344.10" y="255.03" width="12.17" height="12.17" fill="#375b8d"/>
<rect x="355.97" y="255.03" width="12.17" height="12.17" fill="#2c728e"/>
<rect x="367.84" y="255.03" width="12.17" height="12.17" fill="#31678e"/>
<rect x="379.71" y="255.03" width="12.17" height="12.17" fill="#2c728e"/>
<rect x="391.58" y="255.03" width="12.17" height="12.17" fill="#2c728e"/>
<rect x="403.45" y="255.03" width="12.17" height="12.17" fill="#287c8e"/>
<rect x="415.32" y="255.03" width="12.17" height="12.17" fill="#2c728e"/>
<rect x="427.19" y="255.03" width="12.17" height="12.17" fill="#2c728e"/>
<rect x="439.06" y="255.03" width="12.17" height="12.17" fill="#31678e"/>
<rect x="450.93" y="255.03" width="12.17" height="12.17" fill="#31678e"/>
<rect x="462.80" y="255.03" width="12.17" height="12.17" fill="#375b8d"/>
<rect x="94.83" y="266.90" width="12.17" height="12.17" fill="#2c728e"/>
<rect x="106.70" y="266.90" width="12.17" height="12.17" fill="#3d4e8a"/>
<rect x="118.57" y="266.90" width="12.17" height="12.17" fill="#3d4e8a"/>
<rect x="130.44" y="266.90" width="12.17" height="12.17" fill="#423f85"/>
<rect x="142.31" y="266.90" width="12.17" height="12.17" fill="#31678e"/>
<rect x="154.18" y="266.90" width="12.17" height="12.17" fill="#31678e"/>
<rect x="166.05" y="266.90" width="12.17" height="12.17" fill="#3d4e8a"/>
<rect x="177.92" y="266.90" width="12.17" height="12.17" fill="#423f85"/>
<rect x="189.79" y="266.90" width="12.17" height="12.17" fill="#31678e"/>
<rect x="201.66" y="266.90" width="12.17" height="12.17" fill="#31678e"/>
<rect x="213.53" y="266.90" width="12.17" height="12.17" fill="#423f85"/>
<rect x="225.40" y="266.90" width="12.17" height="12.17" fill="#375b8d"/>
<rect x="237.27" y="266.90" width="12.17" height="12.17" fill="#31688e"/>
<rect x="249.14" y="266.90" width="12.17" height="12.17" fill="#375b8d"/>
<rect x="261.01" y="266.90" width="12.17" height="12.17" fill="#2c738e"/>
<rect x="272.88" y="266.90" width="12.17" height="12.17" fill="#31688e"/>
<rect x="284.75" y="266.90" width="12.17" height="12.17" fill="#31688e"/>
<rect x="296.62" y="266.90" width="12.17" height="12.17" fill="#3d4e8a"/>
<rect x="308.49" y="266.90" width="12.17" height="12.17" fill="#2c728e"/>
<rect x="320.36" y="266.90" width="12.17" height="12.17" fill="#3d4e8a"/>
<rect x="332.23" y="266.90" width="12.17" height="12.17" fill="#2c728e"/>
<rect x="344.10" y="266.90" width="12.17" height="12.17" fill="#2c728e"/>
<rect x="355.97" y="266.90" width="12.17" height="12.17" fill="#375b8d"/>
<rect x="367.84" y="266.90" width="12.17" height="12.17" fill="#31678e"/>
<rect x="379.71" y="266.90" width="12.17" height="12.17" fill="#31678e"/>
<rect x="391.58" y="266.90" width="12.17" height="12.17" fill="#3d4e8a"/>
<rect x="403.45" y="266.90" width="12.17" height="12.17" fill="#287c8e"/>
<rect x="415.32" y="266.90" width="12.17" height="12.17" fill="#2c728e"/>
<rect x="427.19" y="266.90" width="12.17" height="12.17" fill="#3d4e8a"/>
<rect x="439.06" y="266.90" width="12.17" height="12.17" fill="#2c728e"/>
<rect x="450.93" y="266.90" width="12.17" height="12.17" fill="#3d4e8a"/>
<rect x="462.80" y="266.90" width="12.17" height="12.17" fill="#375b8d"/>
<rect x="94.83" y="278.77" width="12.17" height="12.17" fill="#31678e"/>
<rect x="106.70" y="278.77" width="12.17" height="12.17" fill="#423f85"/>
<rect x="118.57" y="278.77" width="12.17" height="12.17" fill="#482173"/>
<rect x="130.44" y="278.77" width="12.17" height="12.17" fill="#375b8d"/>
<rect x="142.31" y="278.77" width="12.17" height="12.17" fill="#31678e"/>
<rect x="154.18" y="278.77" width="12.17" height="12.17" fill="#375b8d"/>
<rect x="166.05" y="278.77" width="12.17" height="12.17" fill="#3d4e8a"/>
<rect x="177.92" y="278.77" width="12.17" height="12.17" fill="#423f85"/>
<rect x="189.79" y="278.77" width="12.17" height="12.17" fill="#31678e"/>
<rect x="201.66" y="278.77" width="12.17" height="12.17" fill="#46307e"/>
<rect x="213.53" y="278.77" width="12.17" height="12.17" fill="#31678e"/>
<rect x="225.40" y="278.77" width="12.17" height="12.17" fill="#423f85"/>
<rect x="237.27" y="278.77" width="12.17" height="12.17" fill="#375b8d"/>
<rect x="249.14" y="278.77" width="12.17" height="12.17" fill="#3d4e8a"/>
<rect x="261.01" y="278.77" width="12.17" height="12.17" fill="#2c728e"/>
<rect x="272.88" y="278.77" width="12.17" height="12.17" fill="#31678e"/>
<rect x="284.75" y="278.77" width="12.17" height="12.17" fill="#31678e"/>
<rect x="296.62" y="278.77" width="12.17" height="12.17" fill="#2c728e"/>
<rect x="308.49" y="278.77" width="12.17" height="12.17" fill="#375b8d"/>
<rect x="320.36" y="278.77" width="12.17" height="12.17" fill="#2c728e"/>
<rect x="332.23" y="278.77" width="12.17" height="12.17" fill="#2c728e"/>
<rect x="344.10" y="278.77" width="12.17" height="12.17" fill="#2c728e"/>
<rect x="355.97" y="278.77" width="12.17" height="12.17" fill="#31678e"/>
<rect x="367.84" y="278.77" width="12.17" height="12.17" fill="#2c728e"/>
<rect x="379.71" y="278.77" width="12.17" height="12.17" fill="#2c728e"/>
<rect x="391.58" y="278.77" width="12.17" height="12.17" fill="#2c728e"/>
<rect x="403.45" y="278.77" width="12.17" height="12.17" fill="#375b8d"/>
<rect x="415.32" y="278.77" width="12.17" height="12.17" fill="#375b8d"/>
<rect x="427.19" y="278.77" width="12.17" height="12.17" fill="#2c728e"/>
<rect x="439.06" y="278.77" width="12.17" height="12.17" fill="#31678e"/>
<rect x="450.93" y="278.77" width="12.17" height="12.17" fill="#31678e"/>
<rect x="462.80" y="278.77" width="12.17" height="12.17" fill="#31678e"/>
<rect x="94.83" y="290.64" width="12.17" height="12.17" fill="#31678e"/>
<rect x="106.70" y="290.64" width="12.17" height="12.17" fill="#3d4e8a"/>
<rect x="118.57" y="290.64" width="12.17" height="12.17" fill="#423f85"/>
<rect x="130.44" y="290.64" width="12.17" height="12.17" fill="#375b8d"/>
<rect x="142.31" y="290.64" width="12.17" height="12.17" fill="#423f85"/>
<rect x="154.18" y="290.64" width="12.17" height="12.17" fill="#31678e"/>
<rect x="166.05" y="290.64" width="12.17" height="12.17" fill="#3d4e8a"/>
<rect x="177.92" y="290.64" width="12.17" height="12.17" fill="#31678e"/>
<rect x="189.79" y="290.64" width="12.17" height="12.17" fill="#423f85"/>
<rect x="201.66" y="290.64" width="12.17" height="12.17" fill="#3d4e8a"/>
<rect x="213.53" y="290.64" width="12.17" height="12.17" fill="#375b8d"/>
<rect x="225.40" y="290.64" width="12.17" height="12.17" fill="#375b8d"/>
<rect x="237.27" y="290.64" width="12.17" height="12.17" fill="#375b8d"/>
<rect x="249.14" y="290.64" width="12.17" height="12.17" fill="#375b8d"/>
<rect x="261.01" y="290.64" width="12.17" height="12.17" fill="#3d4e8a"/>
<rect x="272.88" y="290.64" width="12.17" height="12.17" fill="#31678e"/>
<rect x="284.75" y="290.64" width="12.17" height="12.17" fill="#2c728e"/>
<rect x="296.62" y="290.64" width="12.17" height="12.17" fill="#375b8d"/>
<rect x="308.49" y="290.64" width="12.17" height="12.17" fill="#2c728e"/>
<rect x="320.36" y="290.64" width="12.17" height="12.17" fill="#31678e"/>
<rect x="332.23" y="290.64" width="12.17" height="12.17" fill="#31678e"/>
<rect x="344.10" y="290.64" width="12.17" height="12.17" fill="#375b8d"/>
<rect x="355.97" y="290.64" width="12.17" height="12.17" fill="#31678e"/>
<rect x="367.84" y="290.64" width="12.17" height="12.17" fill="#2c728e"/>
<rect x="379.71" y="290.64" width="12.17" height="12.17" fill="#2c728e"/>
<rect x="391.58" y="290.64" width="12.17" height="12.17" fill="#31678e"/>
<rect x="403.45" y="290.64" width="12.17" height="12.17" fill="#2c728e"/>
<rect x="415.32" y="290.64" width="12.17" height="12.17" fill="#31678e"/>
<rect x="427.19" y="290.64" width="12.17" height="12.17" fill="#3d4e8a"/>
<rect x="439.06" y="290.64" width="12.17" height="12.17" fill="#375b8d"/>
<rect x="450.93" y="290.64" width="12.17" height="12.17" fill="#375b8d"/>
<rect x="462.80" y="290.64" width="12.17" height="12.17" fill="#31678e"/>
<rect x="94.83" y="302.51" width="12.17" height="12.17" fill="#31678e"/>
<rect x="106.70" y="302.51" width="12.17" height="12.17" fill="#423f85"/>
<rect x="118.57" y="302.51" width="12.17" height="12.17" fill="#3d4e8a"/>
<rect x="130.44" y="302.51" width="12.17" height="12.17" fill="#31678e"/>
<rect x="142.31" y="302.51" width="12.17" height="12.17" fill="#375b8d"/>
<rect x="154.18" y="302.51" width="12.17" height="12.17" fill="#31678e"/>
<rect x="166.05" y="302.51" width="12.17" height="12.17" fill="#3d4e8a"/>
<rect x="177.92" y="302.51" width="12.17" height="12.17" fill="#375b8d"/>
<rect x="189.79" y="302.51" width="12.17" height="12.17" fill="#31678e"/>
<rect x="201.66" y="302.51" width="12.17" height="12.17" fill="#3d4e8a"/>
<rect x="213.53" y="302.51" width="12.17" height="12.17" fill="#46307e"/>
<rect x="225.40" y="302.51" width="12.17" height="12.17" fill="#31678e"/>
<rect x="237.27" y="302.51" width="12.17" height="12.17" fill="#31678e"/>
<rect x="249.14" y="302.51" width="12.17" height="12.17" fill="#375b8d"/>
<rect x="261.01" y="302.51" width="12.17" height="12.17" fill="#375b8d"/>
<rect x="272.88" y="302.51" width="12.17" height="12.17" fill="#2c728e"/>
<rect x="284.75" y="302.51" width="12.17" height="12.17" fill="#287c8e"/>
<rect x="296.62" y="302.51" width="12.17" height="12.17" fill="#2c728e"/>
<rect x="308.49" y="302.51" width="12.17" height="12.17" fill="#375b8d"/>
<rect x="320.36" y="302.51" width="12.17" height="12.17" fill="#31678e"/>
<rect x="332.23" y="302.51" width="12.17" height="12.17" fill="#31678e"/>
<rect x="344.10" y="302.51" width="12.17" height="12.17" fill="#31678e"/>
<rect x="355.97" y="302.51" width="12.17" height="12.17" fill="#31678e"/>
<rect x="367.84" y="302.51" width="12.17" height="12.17" fill="#375b8d"/>
<rect x="379.71" y="302.51" width="12.17" height="12.17" fill="#375b8d"/>
<rect x="391.58" y="302.51" width="12.17" height="12.17" fill="#31678e"/>
<rect x="403.45" y="302.51" width="12.17" height="12.17" fill="#31678e"/>
<rect x="415.32" y="302.51" width="12.17" height="12.17" fill="#2c728e"/>
<rect x="427.19" y="302.51" width="12.17" height="12.17" fill="#2c728e"/>
<rect x="439.06" y="302.51" width="12.17" height="12.17" fill="#2c728e"/>
<rect x="450.93" y="302.51" width="12.17" height="12.17" fill="#2c728e"/>
<rect x="462.80" y="302.51" width="12.17" height="12.17" fill="#31678e"/>
<rect x="94.83" y="314.38" width="12.17" height="12.17" fill="#3d4e8a"/>
<rect x="106.70" y="314.38" width="12.17" height="12.17" fill="#31678e"/>
<rect x="118.57" y="314.38" width="12.17" height="12.17" fill="#423f85"/>
<rect x="130.44" y="314.38" width="12.17" height="12.17" fill="#3d4e8a"/>
<rect x="142.31" y="314.38" width="12.17" height="12.17" fill="#375b8d"/>
<rect x="154.18" y="314.38" width="12.17" height="12.17" fill="#31678e"/>
<rect x="166.05" y="314.38" width="12.17" height="12.17" fill="#3d4e8a"/>
<rect x="177.92" y="314.38" width="12.17" height="12.17" fill="#31678e"/>
<rect x="189.79" y="314.38" width="12.17" height="12.17" fill="#3d4e8a"/>
<rect x="201.66" y="314.38" width="12.17" height="12.17" fill="#3d4e8a"/>
<rect x="213.53" y="314.38" width="12.17" height="12.17" fill="#31678e"/>
<rect x="225.40" y="314.38" width="12.17" height="12.17" fill="#2c728e"/>
<rect x="237.27" y="314.38" width="12.17" height="12.17" fill="#2c728e"/>
<rect x="249.14" y="314.38" width="12.17" height="12.17" fill="#2c728e"/>
<rect x="261.01" y="314.38" width="12.17" height="12.17" fill="#287c8e"/>
<rect x="272.88" y="314.38" width="12.17" height="12.17" fill="#2c728e"/>
<rect x="284.75" y="314.38" width="12.17" height="12.17" fill="#31678e"/>
<rect x="296.62" y="314.38" width="12.17" height="12.17" fill="#2c728e"/>
<rect x="308.49" y="314.38" width="12.17" height="12.17" fill="#2c728e"/>
<rect x="320.36" y="314.38" width="12.17" height="12.17" fill="#2c728e"/>
<rect x="332.23" y="314.38" width="12.17" height="12.17" fill="#2c728e"/>
<rect x="344.10" y="314.38" width="12.17" height="12.17" fill="#287c8e"/>
<rect x="355.97" y="314.38" width="12.17" height="12.17" fill="#287c8e"/>
<rect x="367.84" y="314.38" width="12.17" height="12.17" fill="#2c728e"/>
<rect x="379.71" y="314.38" width="12.17" height="12.17" fill="#2c728e"/>
<rect x="391.58" y="314.38" width="12.17" height="12.17" fill="#31678e"/>
<rect x="403.45" y="314.38" width="12.17" height="12.17" fill="#2c728e"/>
<rect x="415.32" y="314.38" width="12.17" height="12.17" fill="#375b8d"/>
<rect x="427.19" y="314.38" width="12.17" height="12.17" fill="#3d4e8a"/>
<rect x="439.06" y="314.38" width="12.17" height="12.17" fill="#375b8d"/>
<rect x="450.93" y="314.38" width="12.17" height="12.17" fill="#31678e"/>
<rect x="462.80" y="314.38" width="12.17" height="12.17" fill="#31678e"/>
<rect x="94.83" y="326.25" width="12.17" height="12.17" fill="#375b8d"/>
<rect x="106.70" y="326.25" width="12.17" height="12.17" fill="#423f85"/>
<rect x="118.57" y="326.25" width="12.17" height="12.17" fill="#482173"/>
<rect x="130.44" y="326.25" width="12.17" height="12.17" fill="#46307e"/>
<rect x="142.31" y="326.25" width="12.17" height="12.17" fill="#375b8d"/>
<rect x="154.18" y="326.25" width="12.17" height="12.17" fill="#3d4e8a"/>
<rect x="166.05" y="326.25" width="12.17" height="12.17" fill="#3d4e8a"/>
<rect x="177.92" y="326.25" width="12.17" height="12.17" fill="#31678e"/>
<rect x="189.79" y="326.25" width="12.17" height="12.17" fill="#375b8d"/>
<rect x="201.66" y="326.25" width="12.17" height="12.17" fill="#3d4e8a"/>
<rect x="213.53" y="326.25" width="12.17" height="12.17" fill="#31678e"/>
<rect x="225.40" y="326.25" width="12.17" height="12.17" fill="#31678e"/>
<rect x="237.27" y="326.25" width="12.17" height="12.17" fill="#2c728e"/>
<rect x="249.14" y="326.25" width="12.17" height="12.17" fill="#2c728e"/>
<rect x="261.01" y="326.25" width="12.17" height="12.17" fill="#2c728e"/>
<rect x="272.88" y="326.25" width="12.17" height="12.17" fill="#2c728e"/>
<rect x="284.75" y="326.25" width="12.17" height="12.17" fill="#2c728e"/>
<rect x="296.62" y="326.25" width="12.17" height="12.17" fill="#2c728e"/>
<rect x="308.49" y="326.25" width="12.17" height="12.17" fill="#2c728e"/>
<rect x="320.36" y="326.25" width="12.17" height="12.17" fill="#2c728e"/>
<rect x="332.23" y="326.25" width="12.17" height="12.17" fill="#31678e"/>
<rect x="344.10" y="326.25" width="12.17" height="12.17" fill="#2c728e"/>
<rect x="355.97" y="326.25" width="12.17" height="12.17" fill="#1f958b"/>
<rect x="367.84" y="326.25" width="12.17" height="12.17" fill="#287c8e"/>
<rect x="379.71" y="326.25" width="12.17" height="12.17" fill="#2c728e"/>
<rect x="391.58" y="326.25" width="12.17" height="12.17" fill="#31678e"/>
<rect x="403.45" y="326.25" width="12.17" height="12.17" fill="#31678e"/>
<rect x="415.32" y="326.25" width="12.17" height="12.17" fill="#375b8d"/>
<rect x="427.19" y="326.25" width="12.17" height="12.17" fill="#375b8d"/>
<rect x="439.06" y="326.25" width="12.17" height="12.17" fill="#31678e"/>
<rect x="450.93" y="326.25" width="12.17" height="12.17" fill="#31678e"/>
<rect x="462.80" y="326.25" width="12.17" height="12.17" fill="#375b8d"/>
<rect x="94.83" y="338.12" width="12.17" height="12.17" fill="#31678e"/>
<rect x="106.70" y="338.12" width="12.17" height="12.17" fill="#31678e"/>
<rect x="118.57" y="338.12" width="12.17" height="12.17" fill="#375b8d"/>
<rect x="130.44" y="338.12" width="12.17" height="12.17" fill="#423f85"/>
<rect x="142.31" y="338.12" width="12.17" height="12.17" fill="#3d4e8a"/>
<rect x="154.18" y="338.12" width="12.17" height="12.17" fill="#423f85"/>
<rect x="166.05" y="338.12" width="12.17" height="12.17" fill="#3d4e8a"/>
<rect x="177.92" y="338.12" width="12.17" height="12.17" fill="#31678e"/>
<rect x="189.79" y="338.12" width="12.17" height="12.17" fill="#3d4e8a"/>
<rect x="201.66" y="338.12" width="12.17" height="12.17" fill="#31678e"/>
<rect x="213.53" y="338.12" width="12.17" height="12.17" fill="#375b8d"/>
<rect x="225.40" y="338.12" width="12.17" height="12.17" fill="#375b8d"/>
<rect x="237.27" y="338.12" width="12.17" height="12.17" fill="#2c728e"/>
<rect x="249.14" y="338.12" width="12.17" height="12.17" fill="#2c728e"/>
<rect x="261.01" y="338.12" width="12.17" height="12.17" fill="#2c728e"/>
<rect x="272.88" y="338.12" width="12.17" height="12.17" fill="#2c728e"/>
<rect x="284.75" y="338.12" width="12.17" height="12.17" fill="#2c728e"/>
<rect x="296.62" y="338.12" width="12.17" height="12.17" fill="#2c728e"/>
<rect x="308.49" y="338.12" width="12.17" height="12.17" fill="#2c728e"/>
<rect x="320.36" y="338.12" width="12.17" height="12.17" fill="#2c728e"/>
<rect x="332.23" y="338.12" width="12.17" height="12.17" fill="#2c728e"/>
<rect x="344.10" y="338.12" width="12.17" height="12.17" fill="#2c728e"/>
<rect x="355.97" y="338.12" width="12.17" height="12.17" fill="#287c8e"/>
<rect x="367.84" y="338.12" width="12.17" height="12.17" fill="#2c728e"/>
<rect x="379.71" y="338.12" width="12.17" height="12.17" fill="#2c728e"/>
<rect x="391.58" y="338.12" width="12.17" height="12.17" fill="#423f85"/>
<rect x="403.45" y="338.12" width="12.17" height="12.17" fill="#3d4e8a"/>
<rect x="415.32" y="338.12" width="12.17" height="12.17" fill="#2c728e"/>
<rect x="427.19" y="338.12" width="12.17" height="12.17" fill="#3d4e8a"/>
<rect x="439.06" y="338.12" width="12.17" height="12.17" fill="#2c728e"/>
<rect x="450.93" y="338.12" width="12.17" height="12.17" fill="#2c728e"/>
<rect x="462.80" y="338.12" width="12.17" height="12.17" fill="#31678e"/>
<rect x="94.83" y="349.99" width="12.17" height="12.17" fill="#2c728e"/>
<rect x="106.70" y="349.99" width="12.17" height="12.17" fill="#375b8d"/>
<rect x="118.57" y="349.99" width="12.17" height="12.17" fill="#3d4e8a"/>
<rect x="130.44" y="349.99" width="12.17" height="12.17" fill="#423f85"/>
<rect x="142.31" y="349.99" width="12.17" height="12.17" fill="#375b8d"/>
<rect x="154.18" y="349.99" width="12.17" height="12.17" fill="#31678e"/>
<rect x="166.05" y="349.99" width="12.17" height="12.17" fill="#423f85"/>
<rect x="177.92" y="349.99" width="12.17" height="12.17" fill="#375b8d"/>
<rect x="189.79" y="349.99" width="12.17" height="12.17" fill="#31678e"/>
<rect x="201.66" y="349.99" width="12.17" height="12.17" fill="#375b8d"/>
<rect x="213.53" y="349.99" width="12.17" height="12.17" fill="#3d4e8a"/>
<rect x="225.40" y="349.99" width="12.17" height="12.17" fill="#3d4e8a"/>
<rect x="237.27" y="349.99" width="12.17" height="12.17" fill="#31678e"/>
<rect x="249.14" y="349.99" width="12.17" height="12.17" fill="#375b8d"/>
<rect x="261.01" y="349.99" width="12.17" height="12.17" fill="#2c728e"/>
<rect x="272.88" y="349.99" width="12.17" height="12.17" fill="#2c728e"/>
<rect x="284.75" y="349.99" width="12.17" height="12.17" fill="#287c8e"/>
<rect x="296.62" y="349.99" width="12.17" height="12.17" fill="#287c8e"/>
<rect x="308.49" y="349.99" width="12.17" height="12.17" fill="#287c8e"/>
<rect x="320.36" y="349.99" width="12.17" height="12.17" fill="#31678e"/>
<rect x="332.23" y="349.99" width="12.17" height="12.17" fill="#3d4e8a"/>
<rect x="344.10" y="349.99" width="12.17" height="12.17" fill="#2c728e"/>
<rect x="355.97" y="349.99" width="12.17" height="12.17" fill="#31678e"/>
<rect x="367.84" y="349.99" width="12.17" height="12.17" fill="#375b8d"/>
<rect x="379.71" y="349.99" width="12.17" height="12.17" fill="#2c728e"/>
<rect x="391.58" y="349.99" width="12.17" height="12.17" fill="#31678e"/>
<rect x="403.45" y="349.99" width="12.17" height="12.17" fill="#31678e"/>
<rect x="415.32" y="349.99" width="12.17" height="12.17" fill="#31678e"/>
<rect x="427.19" y="349.99" width="12.17" height="12.17" fill="#287c8e"/>
<rect x="439.06" y="349.99" width="12.17" height="12.17" fill="#31678e"/>
<rect x="450.93" y="349.99" width="12.17" height="12.17" fill="#375b8d"/>
<rect x="462.80" y="349.99" width="12.17" height="12.17" fill="#31678e"/>
<rect x="94.83" y="361.86" width="12.17" height="12.17" fill="#423f85"/>
<rect x="106.70" y="361.86" width="12.17" height="12.17" fill="#2c728e"/>
<rect x="118.57" y="361.86" width="12.17" height="12.17" fill="#31678e"/>
<rect x="130.44" y="361.86" width="12.17" height="12.17" fill="#31678e"/>
<rect x="142.31" y="361.86" width="12.17" height="12.17" fill="#375b8d"/>
<rect x="154.18" y="361.86" width="12.17" height="12.17" fill="#375b8d"/>
<rect x="166.05" y="361.86" width="12.17" height="12.17" fill="#375b8d"/>
<rect x="177.92" y="361.86" width="12.17" height="12.17" fill="#423f85"/>
<rect x="189.79" y="361.86" width="12.17" height="12.17" fill="#375b8d"/>
<rect x="201.66" y="361.86" width="12.17" height="12.17" fill="#2c728e"/>
<rect x="213.53" y="361.86" width="12.17" height="12.17" fill="#2c728e"/>
<rect x="225.40" y="361.86" width="12.17" height="12.17" fill="#2c728e"/>
<rect x="237.27" y="361.86" width="12.17" height="12.17" fill="#2c728e"/>
<rect x="249.14" y="361.86" width="12.17" height="12.17" fill="#2c728e"/>
<rect x="261.01" y="361.86" width="12.17" height="12.17" fill="#3d4e8a"/>
<rect x="272.88" y="361.86" width="12.17" height="12.17" fill="#31678e"/>
<rect x="284.75" y="361.86" width="12.17" height="12.17" fill="#31678e"/>
<rect x="296.62" y="361.86" width="12.17" height="12.17" fill="#3d4e8a"/>
<rect x="308.49" y="361.86" width="12.17" height="12.17" fill="#31678e"/>
<rect x="320.36" y="361.86" width="12.17" height="12.17" fill="#423f85"/>
<rect x="332.23" y="361.86" width="12.17" height="12.17" fill="#2c728e"/>
<rect x="344.10" y="361.86" width="12.17" height="12.17" fill="#2c728e"/>
<rect x="355.97" y="361.86" width="12.17" height="12.17" fill="#2c728e"/>
<rect x="367.84" y="361.86" width="12.17" height="12.17" fill="#31678e"/>
<rect x="379.71" y="361.86" width="12.17" height="12.17" fill="#2c728e"/>
<rect x="391.58" y="361.86" width="12.17" height="12.17" fill="#2c728e"/>
<rect x="403.45" y="361.86" width="12.17" height="12.17" fill="#31678e"/>
<rect x="415.32" y="361.86" width="12.17" height="12.17" fill="#31678e"/>
<rect x="427.19" y="361.86" width="12.17" height="12.17" fill="#375b8d"/>
<rect x="439.06" y="361.86" width="12.17" height="12.17" fill="#287c8e"/>
<rect x="450.93" y="361.86" width="12.17" height="12.17" fill="#31678e"/>
<rect x="462.80" y="361.86" width="12.17" height="12.17" fill="#31678e"/>
<rect x="94.83" y="373.73" width="12.17" height="12.17" fill="#3d4e8a"/>
<rect x="106.70" y="373.73" width="12.17" height="12.17" fill="#375b8d"/>
<rect x="118.57" y="373.73" width="12.17" height="12.17" fill="#31678e"/>
<rect x="130.44" y="373.73" width="12.17" height="12.17" fill="#31678e"/>
<rect x="142.31" y="373.73" width="12.17" height="12.17" fill="#31678e"/>
<rect x="154.18" y="373.73" width="12.17" height="12.17" fill="#31678e"/>
<rect x="166.05" y="373.73" width="12.17" height="12.17" fill="#375b8d"/>
<rect x="177.92" y="373.73" width="12.17" height="12.17" fill="#287c8e"/>
<rect x="189.79" y="373.73" width="12.17" height="12.17" fill="#31678e"/>
<rect x="201.66" y="373.73" width="12.17" height="12.17" fill="#31678e"/>
<rect x="213.53" y="373.73" width="12.17" height="12.17" fill="#375b8d"/>
<rect x="225.40" y="373.73" width="12.17" height="12.17" fill="#31678e"/>
<rect x="237.27" y="373.73" width="12.17" height="12.17" fill="#31678e"/>
<rect x="249.14" y="373.73" width="12.17" height="12.17" fill="#423f85"/>
<rect x="261.01" y="373.73" width="12.17" height="12.17" fill="#2c728e"/>
<rect x="272.88" y="373.73" width="12.17" height="12.17" fill="#31678e"/>
<rect x="284.75" y="373.73" width="12.17" height="12.17" fill="#2c728e"/>
<rect x="296.62" y="373.73" width="12.17" height="12.17" fill="#31678e"/>
<rect x="308.49" y="373.73" width="12.17" height="12.17" fill="#2c728e"/>
<rect x="320.36" y="373.73" width="12.17" height="12.17" fill="#31678e"/>
<rect x="332.23" y="373.73" width="12.17" height="12.17" fill="#31678e"/>
<rect x="344.10" y="373.73" width="12.17" height="12.17" fill="#2c728e"/>
<rect x="355.97" y="373.73" width="12.17" height="12.17" fill="#2c728e"/>
<rect x="367.84" y="373.73" width="12.17" height="12.17" fill="#2c728e"/>
<rect x="379.71" y="373.73" width="12.17" height="12.17" fill="#31678e"/>
<rect x="391.58" y="373.73" width="12.17" height="12.17" fill="#31678e"/>
<rect x="403.45" y="373.73" width="12.17" height="12.17" fill="#423f85"/>
<rect x="415.32" y="373.73" width="12.17" height="12.17" fill="#3d4e8a"/>
<rect x="427.19" y="373.73" width="12.17" height="12.17" fill="#31678e"/>
<rect x="439.06" y="373.73" width="12.17" height="12.17" fill="#31678e"/>
<rect x="450.93" y="373.73" width="12.17" height="12.17" fill="#2c728e"/>
<rect x="462.80" y="373.73" width="12.17" height="12.17" fill="#31678e"/>
</g>
<path d="M219.5 62.8 A142.0 142.0 0 1 0 344.9 317.1 L310.0 255.3 A71.0 71.0 0 1 1 247.3 128.1 Z" fill="none" stroke="#fff" stroke-width="2.2" stroke-dasharray="3.3 1.4"/>
<circle cx="277.5" cy="192.3" r="35.6" fill="none" stroke="#fff" stroke-width="1.9"/>
<path d="M101.4 7v6.5M101.4 385.6v-6.5M108.4 7v3.8M108.4 385.6v-3.8M115.5 7v3.8M115.5 385.6v-3.8M122.5 7v3.8M122.5 385.6v-3.8M129.6 7v3.8M129.6 385.6v-3.8M136.6 7v6.5M136.6 385.6v-6.5M143.6 7v3.8M143.6 385.6v-3.8M150.7 7v3.8M150.7 385.6v-3.8M157.7 7v3.8M157.7 385.6v-3.8M164.8 7v3.8M164.8 385.6v-3.8M171.8 7v6.5M171.8 385.6v-6.5M178.8 7v3.8M178.8 385.6v-3.8M185.9 7v3.8M185.9 385.6v-3.8M192.9 7v3.8M192.9 385.6v-3.8M200.0 7v3.8M200.0 385.6v-3.8M207.0 7v6.5M207.0 385.6v-6.5M214.0 7v3.8M214.0 385.6v-3.8M221.1 7v3.8M221.1 385.6v-3.8M228.1 7v3.8M228.1 385.6v-3.8M235.2 7v3.8M235.2 385.6v-3.8M242.2 7v6.5M242.2 385.6v-6.5M249.2 7v3.8M249.2 385.6v-3.8M256.3 7v3.8M256.3 385.6v-3.8M263.3 7v3.8M263.3 385.6v-3.8M270.4 7v3.8M270.4 385.6v-3.8M277.4 7v6.5M277.4 385.6v-6.5M284.4 7v3.8M284.4 385.6v-3.8M291.5 7v3.8M291.5 385.6v-3.8M298.5 7v3.8M298.5 385.6v-3.8M305.6 7v3.8M305.6 385.6v-3.8M312.6 7v6.5M312.6 385.6v-6.5M319.6 7v3.8M319.6 385.6v-3.8M326.7 7v3.8M326.7 385.6v-3.8M333.7 7v3.8M333.7 385.6v-3.8M340.8 7v3.8M340.8 385.6v-3.8M347.8 7v6.5M347.8 385.6v-6.5M354.8 7v3.8M354.8 385.6v-3.8M361.9 7v3.8M361.9 385.6v-3.8M368.9 7v3.8M368.9 385.6v-3.8M376.0 7v3.8M376.0 385.6v-3.8M383.0 7v6.5M383.0 385.6v-6.5M390.0 7v3.8M390.0 385.6v-3.8M397.1 7v3.8M397.1 385.6v-3.8M404.1 7v3.8M404.1 385.6v-3.8M411.2 7v3.8M411.2 385.6v-3.8M418.2 7v6.5M418.2 385.6v-6.5M425.2 7v3.8M425.2 385.6v-3.8M432.3 7v3.8M432.3 385.6v-3.8M439.3 7v3.8M439.3 385.6v-3.8M446.4 7v3.8M446.4 385.6v-3.8M453.4 7v6.5M453.4 385.6v-6.5M460.4 7v3.8M460.4 385.6v-3.8M467.5 7v3.8M467.5 385.6v-3.8M96 12.7h3.2M473.4 13.0h-3.2M96 24.6h3.2M473.4 24.9h-3.2M96 36.6h3.2M473.4 36.9h-3.2M96 48.6h5.5M473.4 48.9h-5.5M96 60.6h3.2M473.4 60.9h-3.2M96 72.6h3.2M473.4 72.9h-3.2M96 84.5h3.2M473.4 84.8h-3.2M96 96.5h5.5M473.4 96.8h-5.5M96 108.5h3.2M473.4 108.8h-3.2M96 120.5h3.2M473.4 120.8h-3.2M96 132.5h3.2M473.4 132.8h-3.2M96 144.4h5.5M473.4 144.7h-5.5M96 156.4h3.2M473.4 156.7h-3.2M96 168.4h3.2M473.4 168.7h-3.2M96 180.4h3.2M473.4 180.7h-3.2M96 192.4h5.5M473.4 192.7h-5.5M96 204.3h3.2M473.4 204.6h-3.2M96 216.3h3.2M473.4 216.6h-3.2M96 228.3h3.2M473.4 228.6h-3.2M96 240.3h5.5M473.4 240.6h-5.5M96 252.3h3.2M473.4 252.6h-3.2M96 264.2h3.2M473.4 264.5h-3.2M96 276.2h3.2M473.4 276.5h-3.2M96 288.2h5.5M473.4 288.5h-5.5M96 300.2h3.2M473.4 300.5h-3.2M96 312.2h3.2M473.4 312.5h-3.2M96 324.1h3.2M473.4 324.4h-3.2M96 336.1h5.5M473.4 336.4h-5.5M96 348.1h3.2M473.4 348.4h-3.2M96 360.1h3.2M473.4 360.4h-3.2M96 372.1h3.2M473.4 372.4h-3.2M96 384.0h5.5M473.4 384.3h-5.5" stroke="#fff" stroke-opacity="0.9" stroke-width="1" fill="none"/>
<text x="347.8" y="39.6" font-size="26.5" text-anchor="middle" fill="#fff" stroke="#fff" stroke-width="0.45" textLength="114.6" lengthAdjust="spacingAndGlyphs">src = 3 pix</text>
<text x="364.8" y="65.4" font-size="26.5" text-anchor="middle" fill="#fff" stroke="#fff" stroke-width="0.45" textLength="155.5" lengthAdjust="spacingAndGlyphs">bkg = 6-12 pix</text>
<text x="104.2" y="408.6" font-size="26.2" text-anchor="middle" fill="#000" stroke="#000" stroke-width="0.45" textLength="44.8" lengthAdjust="spacingAndGlyphs">49.9</text>
<text x="209.4" y="408.6" font-size="26.2" text-anchor="middle" fill="#000" stroke="#000" stroke-width="0.45" textLength="44.8" lengthAdjust="spacingAndGlyphs">49.6</text>
<text x="315" y="408.6" font-size="26.2" text-anchor="middle" fill="#000" stroke="#000" stroke-width="0.45" textLength="44.8" lengthAdjust="spacingAndGlyphs">49.3</text>
<text x="425" y="408.6" font-size="26.2" text-anchor="middle" fill="#000" stroke="#000" stroke-width="0.45" textLength="112.6" lengthAdjust="spacingAndGlyphs">12:30:49.0</text>
<text x="294.2" y="447.8" font-size="27.5" text-anchor="middle" fill="#000" stroke="#000" stroke-width="0.45" textLength="176.7" lengthAdjust="spacingAndGlyphs">Right Ascension</text>
<text x="84.2" y="44.8" font-size="26.2" text-anchor="middle" fill="#000" stroke="#000" stroke-width="0.45" textLength="42.5" lengthAdjust="spacingAndGlyphs" transform="rotate(-90 84.2 44.8)">34.0</text>
<text x="84.2" y="138.4" font-size="26.2" text-anchor="middle" fill="#000" stroke="#000" stroke-width="0.45" textLength="111" lengthAdjust="spacingAndGlyphs" transform="rotate(-90 84.2 138.4)">12:23:30.0</text>
<text x="84.2" y="237" font-size="26.2" text-anchor="middle" fill="#000" stroke="#000" stroke-width="0.45" textLength="43" lengthAdjust="spacingAndGlyphs" transform="rotate(-90 84.2 237)">26.0</text>
<text x="84.2" y="333.6" font-size="26.2" text-anchor="middle" fill="#000" stroke="#000" stroke-width="0.45" textLength="43" lengthAdjust="spacingAndGlyphs" transform="rotate(-90 84.2 333.6)">22.0</text>
<text x="39.3" y="189.5" font-size="27.5" text-anchor="middle" fill="#000" stroke="#000" stroke-width="0.45" textLength="124.6" lengthAdjust="spacingAndGlyphs" transform="rotate(-90 39.3 189.5)">Declination</text>
<rect x="579" y="0" width="378.6" height="378.6" fill="#440154"/>
<g clip-path="url(#cr)" shape-rendering="crispEdges">
<rect x="581.52" y="-0.72" width="3.02" height="3.02" fill="#31688e"/>
<rect x="821.88" y="-0.72" width="3.02" height="3.02" fill="#31688e"/>
<rect x="780.34" y="2.25" width="3.02" height="3.02" fill="#31688e"/>
<rect x="807.05" y="8.18" width="3.02" height="3.02" fill="#31688e"/>
<rect x="602.29" y="17.08" width="3.02" height="3.02" fill="#31688e"/>
<rect x="738.79" y="17.08" width="3.02" height="3.02" fill="#31688e"/>
<rect x="759.57" y="17.08" width="3.02" height="3.02" fill="#31688e"/>
<rect x="688.35" y="20.05" width="3.02" height="3.02" fill="#31688e"/>
<rect x="786.27" y="31.92" width="3.02" height="3.02" fill="#31688e"/>
<rect x="685.38" y="34.89" width="3.02" height="3.02" fill="#31688e"/>
<rect x="875.30" y="43.79" width="3.02" height="3.02" fill="#31688e"/>
<rect x="869.37" y="46.76" width="3.02" height="3.02" fill="#31688e"/>
<rect x="679.44" y="55.66" width="3.02" height="3.02" fill="#31688e"/>
<rect x="726.92" y="64.56" width="3.02" height="3.02" fill="#31688e"/>
<rect x="777.37" y="67.53" width="3.02" height="3.02" fill="#31688e"/>
<rect x="703.18" y="70.50" width="3.02" height="3.02" fill="#31688e"/>
<rect x="712.09" y="76.43" width="3.02" height="3.02" fill="#31688e"/>
<rect x="747.70" y="82.37" width="3.02" height="3.02" fill="#31688e"/>
<rect x="697.25" y="85.34" width="3.02" height="3.02" fill="#31688e"/>
<rect x="670.54" y="91.27" width="3.02" height="3.02" fill="#31688e"/>
<rect x="795.18" y="94.24" width="3.02" height="3.02" fill="#31688e"/>
<rect x="715.05" y="97.21" width="3.02" height="3.02" fill="#31688e"/>
<rect x="795.18" y="97.21" width="3.02" height="3.02" fill="#31688e"/>
<rect x="812.98" y="97.21" width="3.02" height="3.02" fill="#31688e"/>
<rect x="646.80" y="100.17" width="3.02" height="3.02" fill="#31688e"/>
<rect x="774.40" y="103.14" width="3.02" height="3.02" fill="#31688e"/>
<rect x="830.79" y="103.14" width="3.02" height="3.02" fill="#31688e"/>
<rect x="863.43" y="103.14" width="3.02" height="3.02" fill="#31688e"/>
<rect x="694.28" y="106.11" width="3.02" height="3.02" fill="#31688e"/>
<rect x="780.34" y="106.11" width="3.02" height="3.02" fill="#31688e"/>
<rect x="896.07" y="109.08" width="3.02" height="3.02" fill="#31688e"/>
<rect x="851.56" y="115.01" width="3.02" height="3.02" fill="#31688e"/>
<rect x="723.96" y="117.98" width="3.02" height="3.02" fill="#31688e"/>
<rect x="759.57" y="117.98" width="3.02" height="3.02" fill="#31688e"/>
<rect x="789.24" y="117.98" width="3.02" height="3.02" fill="#31688e"/>
<rect x="807.05" y="117.98" width="3.02" height="3.02" fill="#31688e"/>
<rect x="854.53" y="117.98" width="3.02" height="3.02" fill="#31688e"/>
<rect x="810.01" y="120.95" width="3.02" height="3.02" fill="#31688e"/>
<rect x="750.66" y="123.91" width="3.02" height="3.02" fill="#31688e"/>
<rect x="824.85" y="123.91" width="3.02" height="3.02" fill="#31688e"/>
<rect x="827.82" y="123.91" width="3.02" height="3.02" fill="#31688e"/>
<rect x="649.77" y="126.88" width="3.02" height="3.02" fill="#31688e"/>
<rect x="720.99" y="126.88" width="3.02" height="3.02" fill="#31688e"/>
<rect x="726.92" y="126.88" width="3.02" height="3.02" fill="#31688e"/>
<rect x="786.27" y="126.88" width="3.02" height="3.02" fill="#31688e"/>
<rect x="863.43" y="126.88" width="3.02" height="3.02" fill="#31688e"/>
<rect x="869.37" y="126.88" width="3.02" height="3.02" fill="#31688e"/>
<rect x="738.79" y="129.85" width="3.02" height="3.02" fill="#31688e"/>
<rect x="759.57" y="129.85" width="3.02" height="3.02" fill="#31688e"/>
<rect x="836.72" y="129.85" width="3.02" height="3.02" fill="#31688e"/>
<rect x="723.96" y="132.82" width="3.02" height="3.02" fill="#31688e"/>
<rect x="741.76" y="132.82" width="3.02" height="3.02" fill="#31688e"/>
<rect x="756.60" y="132.82" width="3.02" height="3.02" fill="#31688e"/>
<rect x="596.36" y="135.78" width="3.02" height="3.02" fill="#31688e"/>
<rect x="700.22" y="135.78" width="3.02" height="3.02" fill="#31688e"/>
<rect x="762.53" y="135.78" width="3.02" height="3.02" fill="#31688e"/>
<rect x="774.40" y="135.78" width="3.02" height="3.02" fill="#31688e"/>
<rect x="670.54" y="138.75" width="3.02" height="3.02" fill="#31688e"/>
<rect x="706.15" y="138.75" width="3.02" height="3.02" fill="#31688e"/>
<rect x="771.44" y="138.75" width="3.02" height="3.02" fill="#31688e"/>
<rect x="789.24" y="138.75" width="3.02" height="3.02" fill="#31688e"/>
<rect x="643.84" y="141.72" width="3.02" height="3.02" fill="#31688e"/>
<rect x="679.44" y="141.72" width="3.02" height="3.02" fill="#31688e"/>
<rect x="777.37" y="141.72" width="3.02" height="3.02" fill="#31688e"/>
<rect x="792.21" y="141.72" width="3.02" height="3.02" fill="#31688e"/>
<rect x="768.47" y="144.69" width="3.02" height="3.02" fill="#31688e"/>
<rect x="777.37" y="144.69" width="3.02" height="3.02" fill="#31688e"/>
<rect x="786.27" y="144.69" width="3.02" height="3.02" fill="#31688e"/>
<rect x="697.25" y="147.66" width="3.02" height="3.02" fill="#31688e"/>
<rect x="720.99" y="147.66" width="3.02" height="3.02" fill="#31688e"/>
<rect x="795.18" y="147.66" width="3.02" height="3.02" fill="#31688e"/>
<rect x="682.41" y="150.62" width="3.02" height="3.02" fill="#31688e"/>
<rect x="685.38" y="150.62" width="3.02" height="3.02" fill="#31688e"/>
<rect x="726.92" y="150.62" width="3.02" height="3.02" fill="#31688e"/>
<rect x="747.70" y="150.62" width="3.02" height="3.02" fill="#31688e"/>
<rect x="756.60" y="150.62" width="3.02" height="3.02" fill="#31688e"/>
<rect x="768.47" y="150.62" width="3.02" height="3.02" fill="#2b758e"/>
<rect x="771.44" y="150.62" width="3.02" height="3.02" fill="#31688e"/>
<rect x="798.14" y="150.62" width="3.02" height="3.02" fill="#31688e"/>
<rect x="804.08" y="150.62" width="3.02" height="3.02" fill="#31688e"/>
<rect x="807.05" y="150.62" width="3.02" height="3.02" fill="#31688e"/>
<rect x="827.82" y="150.62" width="3.02" height="3.02" fill="#31688e"/>
<rect x="848.59" y="150.62" width="3.02" height="3.02" fill="#31688e"/>
<rect x="890.14" y="150.62" width="3.02" height="3.02" fill="#31688e"/>
<rect x="741.76" y="153.59" width="3.02" height="3.02" fill="#31688e"/>
<rect x="747.70" y="153.59" width="3.02" height="3.02" fill="#31688e"/>
<rect x="756.60" y="153.59" width="3.02" height="3.02" fill="#31688e"/>
<rect x="759.57" y="153.59" width="3.02" height="3.02" fill="#31688e"/>
<rect x="789.24" y="153.59" width="3.02" height="3.02" fill="#2b758e"/>
<rect x="798.14" y="153.59" width="3.02" height="3.02" fill="#31688e"/>
<rect x="818.92" y="153.59" width="3.02" height="3.02" fill="#31688e"/>
<rect x="827.82" y="153.59" width="3.02" height="3.02" fill="#31688e"/>
<rect x="833.75" y="153.59" width="3.02" height="3.02" fill="#31688e"/>
<rect x="839.69" y="153.59" width="3.02" height="3.02" fill="#31688e"/>
<rect x="904.97" y="153.59" width="3.02" height="3.02" fill="#31688e"/>
<rect x="694.28" y="156.56" width="3.02" height="3.02" fill="#31688e"/>
<rect x="723.96" y="156.56" width="3.02" height="3.02" fill="#31688e"/>
<rect x="741.76" y="156.56" width="3.02" height="3.02" fill="#31688e"/>
<rect x="747.70" y="156.56" width="3.02" height="3.02" fill="#31688e"/>
<rect x="753.63" y="156.56" width="3.02" height="3.02" fill="#31688e"/>
<rect x="756.60" y="156.56" width="3.02" height="3.02" fill="#31688e"/>
<rect x="759.57" y="156.56" width="3.02" height="3.02" fill="#31688e"/>
<rect x="762.53" y="156.56" width="3.02" height="3.02" fill="#31688e"/>
<rect x="765.50" y="156.56" width="3.02" height="3.02" fill="#31688e"/>
<rect x="768.47" y="156.56" width="3.02" height="3.02" fill="#2b758e"/>
<rect x="771.44" y="156.56" width="3.02" height="3.02" fill="#31688e"/>
<rect x="777.37" y="156.56" width="3.02" height="3.02" fill="#31688e"/>
<rect x="780.34" y="156.56" width="3.02" height="3.02" fill="#31688e"/>
<rect x="786.27" y="156.56" width="3.02" height="3.02" fill="#31688e"/>
<rect x="789.24" y="156.56" width="3.02" height="3.02" fill="#31688e"/>
<rect x="807.05" y="156.56" width="3.02" height="3.02" fill="#31688e"/>
<rect x="738.79" y="159.52" width="3.02" height="3.02" fill="#31688e"/>
<rect x="741.76" y="159.52" width="3.02" height="3.02" fill="#31688e"/>
<rect x="747.70" y="159.52" width="3.02" height="3.02" fill="#2b758e"/>
<rect x="750.66" y="159.52" width="3.02" height="3.02" fill="#2b758e"/>
<rect x="759.57" y="159.52" width="3.02" height="3.02" fill="#2b758e"/>
<rect x="768.47" y="159.52" width="3.02" height="3.02" fill="#31688e"/>
<rect x="774.40" y="159.52" width="3.02" height="3.02" fill="#31688e"/>
<rect x="786.27" y="159.52" width="3.02" height="3.02" fill="#2b758e"/>
<rect x="792.21" y="159.52" width="3.02" height="3.02" fill="#31688e"/>
<rect x="795.18" y="159.52" width="3.02" height="3.02" fill="#31688e"/>
<rect x="804.08" y="159.52" width="3.02" height="3.02" fill="#31688e"/>
<rect x="815.95" y="159.52" width="3.02" height="3.02" fill="#31688e"/>
<rect x="818.92" y="159.52" width="3.02" height="3.02" fill="#31688e"/>
<rect x="827.82" y="159.52" width="3.02" height="3.02" fill="#31688e"/>
<rect x="706.15" y="162.49" width="3.02" height="3.02" fill="#31688e"/>
<rect x="732.86" y="162.49" width="3.02" height="3.02" fill="#31688e"/>
<rect x="735.83" y="162.49" width="3.02" height="3.02" fill="#2b758e"/>
<rect x="738.79" y="162.49" width="3.02" height="3.02" fill="#31688e"/>
<rect x="747.70" y="162.49" width="3.02" height="3.02" fill="#31688e"/>
<rect x="750.66" y="162.49" width="3.02" height="3.02" fill="#31688e"/>
<rect x="753.63" y="162.49" width="3.02" height="3.02" fill="#2b758e"/>
<rect x="756.60" y="162.49" width="3.02" height="3.02" fill="#31688e"/>
<rect x="768.47" y="162.49" width="3.02" height="3.02" fill="#25838e"/>
<rect x="774.40" y="162.49" width="3.02" height="3.02" fill="#25838e"/>
<rect x="777.37" y="162.49" width="3.02" height="3.02" fill="#2b758e"/>
<rect x="780.34" y="162.49" width="3.02" height="3.02" fill="#31688e"/>
<rect x="783.31" y="162.49" width="3.02" height="3.02" fill="#31688e"/>
<rect x="786.27" y="162.49" width="3.02" height="3.02" fill="#2b758e"/>
<rect x="789.24" y="162.49" width="3.02" height="3.02" fill="#31688e"/>
<rect x="792.21" y="162.49" width="3.02" height="3.02" fill="#31688e"/>
<rect x="798.14" y="162.49" width="3.02" height="3.02" fill="#31688e"/>
<rect x="810.01" y="162.49" width="3.02" height="3.02" fill="#31688e"/>
<rect x="827.82" y="162.49" width="3.02" height="3.02" fill="#31688e"/>
<rect x="617.13" y="165.46" width="3.02" height="3.02" fill="#31688e"/>
<rect x="652.74" y="165.46" width="3.02" height="3.02" fill="#31688e"/>
<rect x="688.35" y="165.46" width="3.02" height="3.02" fill="#31688e"/>
<rect x="720.99" y="165.46" width="3.02" height="3.02" fill="#31688e"/>
<rect x="735.83" y="165.46" width="3.02" height="3.02" fill="#31688e"/>
<rect x="741.76" y="165.46" width="3.02" height="3.02" fill="#25838e"/>
<rect x="747.70" y="165.46" width="3.02" height="3.02" fill="#31688e"/>
<rect x="750.66" y="165.46" width="3.02" height="3.02" fill="#31688e"/>
<rect x="753.63" y="165.46" width="3.02" height="3.02" fill="#2b758e"/>
<rect x="756.60" y="165.46" width="3.02" height="3.02" fill="#228d8d"/>
<rect x="759.57" y="165.46" width="3.02" height="3.02" fill="#25838e"/>
<rect x="762.53" y="165.46" width="3.02" height="3.02" fill="#31688e"/>
<rect x="765.50" y="165.46" width="3.02" height="3.02" fill="#25838e"/>
<rect x="768.47" y="165.46" width="3.02" height="3.02" fill="#25838e"/>
<rect x="771.44" y="165.46" width="3.02" height="3.02" fill="#25838e"/>
<rect x="774.40" y="165.46" width="3.02" height="3.02" fill="#2b758e"/>
<rect x="777.37" y="165.46" width="3.02" height="3.02" fill="#228d8d"/>
<rect x="780.34" y="165.46" width="3.02" height="3.02" fill="#25838e"/>
<rect x="783.31" y="165.46" width="3.02" height="3.02" fill="#31688e"/>
<rect x="786.27" y="165.46" width="3.02" height="3.02" fill="#31688e"/>
<rect x="789.24" y="165.46" width="3.02" height="3.02" fill="#31688e"/>
<rect x="801.11" y="165.46" width="3.02" height="3.02" fill="#2b758e"/>
<rect x="812.98" y="165.46" width="3.02" height="3.02" fill="#31688e"/>
<rect x="845.62" y="165.46" width="3.02" height="3.02" fill="#31688e"/>
<rect x="652.74" y="168.43" width="3.02" height="3.02" fill="#31688e"/>
<rect x="729.89" y="168.43" width="3.02" height="3.02" fill="#31688e"/>
<rect x="738.79" y="168.43" width="3.02" height="3.02" fill="#25838e"/>
<rect x="744.73" y="168.43" width="3.02" height="3.02" fill="#2b758e"/>
<rect x="750.66" y="168.43" width="3.02" height="3.02" fill="#2b758e"/>
<rect x="753.63" y="168.43" width="3.02" height="3.02" fill="#20a386"/>
<rect x="756.60" y="168.43" width="3.02" height="3.02" fill="#228d8d"/>
<rect x="759.57" y="168.43" width="3.02" height="3.02" fill="#20a386"/>
<rect x="762.53" y="168.43" width="3.02" height="3.02" fill="#1f9a8a"/>
<rect x="765.50" y="168.43" width="3.02" height="3.02" fill="#228d8d"/>
<rect x="768.47" y="168.43" width="3.02" height="3.02" fill="#22a785"/>
<rect x="771.44" y="168.43" width="3.02" height="3.02" fill="#25ab82"/>
<rect x="774.40" y="168.43" width="3.02" height="3.02" fill="#25838e"/>
<rect x="777.37" y="168.43" width="3.02" height="3.02" fill="#25838e"/>
<rect x="780.34" y="168.43" width="3.02" height="3.02" fill="#2b758e"/>
<rect x="786.27" y="168.43" width="3.02" height="3.02" fill="#2b758e"/>
<rect x="789.24" y="168.43" width="3.02" height="3.02" fill="#31688e"/>
<rect x="792.21" y="168.43" width="3.02" height="3.02" fill="#2b758e"/>
<rect x="691.31" y="171.39" width="3.02" height="3.02" fill="#31688e"/>
<rect x="700.22" y="171.39" width="3.02" height="3.02" fill="#31688e"/>
<rect x="709.12" y="171.39" width="3.02" height="3.02" fill="#31688e"/>
<rect x="732.86" y="171.39" width="3.02" height="3.02" fill="#31688e"/>
<rect x="738.79" y="171.39" width="3.02" height="3.02" fill="#31688e"/>
<rect x="741.76" y="171.39" width="3.02" height="3.02" fill="#2b758e"/>
<rect x="744.73" y="171.39" width="3.02" height="3.02" fill="#2b758e"/>
<rect x="747.70" y="171.39" width="3.02" height="3.02" fill="#25838e"/>
<rect x="750.66" y="171.39" width="3.02" height="3.02" fill="#1f948c"/>
<rect x="753.63" y="171.39" width="3.02" height="3.02" fill="#25838e"/>
<rect x="756.60" y="171.39" width="3.02" height="3.02" fill="#1f9f88"/>
<rect x="759.57" y="171.39" width="3.02" height="3.02" fill="#27ad81"/>
<rect x="762.53" y="171.39" width="3.02" height="3.02" fill="#2ab07f"/>
<rect x="765.50" y="171.39" width="3.02" height="3.02" fill="#2eb37c"/>
<rect x="768.47" y="171.39" width="3.02" height="3.02" fill="#2eb37c"/>
<rect x="771.44" y="171.39" width="3.02" height="3.02" fill="#22a785"/>
<rect x="774.40" y="171.39" width="3.02" height="3.02" fill="#228d8d"/>
<rect x="777.37" y="171.39" width="3.02" height="3.02" fill="#1f948c"/>
<rect x="780.34" y="171.39" width="3.02" height="3.02" fill="#228d8d"/>
<rect x="783.31" y="171.39" width="3.02" height="3.02" fill="#228d8d"/>
<rect x="786.27" y="171.39" width="3.02" height="3.02" fill="#1f9a8a"/>
<rect x="789.24" y="171.39" width="3.02" height="3.02" fill="#25838e"/>
<rect x="792.21" y="171.39" width="3.02" height="3.02" fill="#31688e"/>
<rect x="801.11" y="171.39" width="3.02" height="3.02" fill="#31688e"/>
<rect x="679.44" y="174.36" width="3.02" height="3.02" fill="#31688e"/>
<rect x="720.99" y="174.36" width="3.02" height="3.02" fill="#31688e"/>
<rect x="726.92" y="174.36" width="3.02" height="3.02" fill="#25838e"/>
<rect x="729.89" y="174.36" width="3.02" height="3.02" fill="#31688e"/>
<rect x="732.86" y="174.36" width="3.02" height="3.02" fill="#31688e"/>
<rect x="735.83" y="174.36" width="3.02" height="3.02" fill="#2b758e"/>
<rect x="738.79" y="174.36" width="3.02" height="3.02" fill="#31688e"/>
<rect x="741.76" y="174.36" width="3.02" height="3.02" fill="#25838e"/>
<rect x="744.73" y="174.36" width="3.02" height="3.02" fill="#25838e"/>
<rect x="747.70" y="174.36" width="3.02" height="3.02" fill="#1f948c"/>
<rect x="750.66" y="174.36" width="3.02" height="3.02" fill="#1f948c"/>
<rect x="753.63" y="174.36" width="3.02" height="3.02" fill="#27ad81"/>
<rect x="756.60" y="174.36" width="3.02" height="3.02" fill="#228d8d"/>
<rect x="759.57" y="174.36" width="3.02" height="3.02" fill="#5ec962"/>
<rect x="762.53" y="174.36" width="3.02" height="3.02" fill="#54c568"/>
<rect x="765.50" y="174.36" width="3.02" height="3.02" fill="#50c46a"/>
<rect x="768.47" y="174.36" width="3.02" height="3.02" fill="#4ec36b"/>
<rect x="771.44" y="174.36" width="3.02" height="3.02" fill="#42be71"/>
<rect x="774.40" y="174.36" width="3.02" height="3.02" fill="#2eb37c"/>
<rect x="777.37" y="174.36" width="3.02" height="3.02" fill="#25ab82"/>
<rect x="780.34" y="174.36" width="3.02" height="3.02" fill="#20a386"/>
<rect x="783.31" y="174.36" width="3.02" height="3.02" fill="#1f948c"/>
<rect x="786.27" y="174.36" width="3.02" height="3.02" fill="#31688e"/>
<rect x="792.21" y="174.36" width="3.02" height="3.02" fill="#31688e"/>
<rect x="795.18" y="174.36" width="3.02" height="3.02" fill="#2b758e"/>
<rect x="801.11" y="174.36" width="3.02" height="3.02" fill="#2b758e"/>
<rect x="830.79" y="174.36" width="3.02" height="3.02" fill="#31688e"/>
<rect x="718.02" y="177.33" width="3.02" height="3.02" fill="#31688e"/>
<rect x="726.92" y="177.33" width="3.02" height="3.02" fill="#31688e"/>
<rect x="729.89" y="177.33" width="3.02" height="3.02" fill="#31688e"/>
<rect x="732.86" y="177.33" width="3.02" height="3.02" fill="#31688e"/>
<rect x="738.79" y="177.33" width="3.02" height="3.02" fill="#31688e"/>
<rect x="741.76" y="177.33" width="3.02" height="3.02" fill="#31688e"/>
<rect x="744.73" y="177.33" width="3.02" height="3.02" fill="#25838e"/>
<rect x="747.70" y="177.33" width="3.02" height="3.02" fill="#1f9a8a"/>
<rect x="750.66" y="177.33" width="3.02" height="3.02" fill="#2eb37c"/>
<rect x="753.63" y="177.33" width="3.02" height="3.02" fill="#2eb37c"/>
<rect x="756.60" y="177.33" width="3.02" height="3.02" fill="#5cc863"/>
<rect x="759.57" y="177.33" width="3.02" height="3.02" fill="#6ece58"/>
<rect x="762.53" y="177.33" width="3.02" height="3.02" fill="#7ad151"/>
<rect x="765.50" y="177.33" width="3.02" height="3.02" fill="#77d153"/>
<rect x="768.47" y="177.33" width="3.02" height="3.02" fill="#98d83e"/>
<rect x="771.44" y="177.33" width="3.02" height="3.02" fill="#63cb5f"/>
<rect x="774.40" y="177.33" width="3.02" height="3.02" fill="#3bbb75"/>
<rect x="777.37" y="177.33" width="3.02" height="3.02" fill="#46c06f"/>
<rect x="780.34" y="177.33" width="3.02" height="3.02" fill="#2ab07f"/>
<rect x="783.31" y="177.33" width="3.02" height="3.02" fill="#228d8d"/>
<rect x="786.27" y="177.33" width="3.02" height="3.02" fill="#20a386"/>
<rect x="789.24" y="177.33" width="3.02" height="3.02" fill="#228d8d"/>
<rect x="726.92" y="180.30" width="3.02" height="3.02" fill="#2b758e"/>
<rect x="729.89" y="180.30" width="3.02" height="3.02" fill="#31688e"/>
<rect x="732.86" y="180.30" width="3.02" height="3.02" fill="#31688e"/>
<rect x="741.76" y="180.30" width="3.02" height="3.02" fill="#1f9f88"/>
<rect x="744.73" y="180.30" width="3.02" height="3.02" fill="#1f948c"/>
<rect x="747.70" y="180.30" width="3.02" height="3.02" fill="#1f948c"/>
<rect x="750.66" y="180.30" width="3.02" height="3.02" fill="#4ec36b"/>
<rect x="753.63" y="180.30" width="3.02" height="3.02" fill="#6ccd5a"/>
<rect x="756.60" y="180.30" width="3.02" height="3.02" fill="#7cd250"/>
<rect x="759.57" y="180.30" width="3.02" height="3.02" fill="#89d548"/>
<rect x="762.53" y="180.30" width="3.02" height="3.02" fill="#aadc32"/>
<rect x="765.50" y="180.30" width="3.02" height="3.02" fill="#a2da37"/>
<rect x="768.47" y="180.30" width="3.02" height="3.02" fill="#a0da39"/>
<rect x="771.44" y="180.30" width="3.02" height="3.02" fill="#9dd93b"/>
<rect x="774.40" y="180.30" width="3.02" height="3.02" fill="#7fd34e"/>
<rect x="777.37" y="180.30" width="3.02" height="3.02" fill="#67cc5c"/>
<rect x="780.34" y="180.30" width="3.02" height="3.02" fill="#25ab82"/>
<rect x="783.31" y="180.30" width="3.02" height="3.02" fill="#20a386"/>
<rect x="786.27" y="180.30" width="3.02" height="3.02" fill="#228d8d"/>
<rect x="789.24" y="180.30" width="3.02" height="3.02" fill="#25838e"/>
<rect x="792.21" y="180.30" width="3.02" height="3.02" fill="#31688e"/>
<rect x="795.18" y="180.30" width="3.02" height="3.02" fill="#31688e"/>
<rect x="804.08" y="180.30" width="3.02" height="3.02" fill="#31688e"/>
<rect x="807.05" y="180.30" width="3.02" height="3.02" fill="#31688e"/>
<rect x="709.12" y="183.26" width="3.02" height="3.02" fill="#31688e"/>
<rect x="718.02" y="183.26" width="3.02" height="3.02" fill="#31688e"/>
<rect x="720.99" y="183.26" width="3.02" height="3.02" fill="#31688e"/>
<rect x="729.89" y="183.26" width="3.02" height="3.02" fill="#2b758e"/>
<rect x="732.86" y="183.26" width="3.02" height="3.02" fill="#228d8d"/>
<rect x="735.83" y="183.26" width="3.02" height="3.02" fill="#2b758e"/>
<rect x="738.79" y="183.26" width="3.02" height="3.02" fill="#1f9a8a"/>
<rect x="741.76" y="183.26" width="3.02" height="3.02" fill="#2b758e"/>
<rect x="744.73" y="183.26" width="3.02" height="3.02" fill="#2ab07f"/>
<rect x="747.70" y="183.26" width="3.02" height="3.02" fill="#32b67a"/>
<rect x="750.66" y="183.26" width="3.02" height="3.02" fill="#54c568"/>
<rect x="753.63" y="183.26" width="3.02" height="3.02" fill="#84d44b"/>
<rect x="756.60" y="183.26" width="3.02" height="3.02" fill="#a0da39"/>
<rect x="759.57" y="183.26" width="3.02" height="3.02" fill="#c0df25"/>
<rect x="762.53" y="183.26" width="3.02" height="3.02" fill="#dde318"/>
<rect x="765.50" y="183.26" width="3.02" height="3.02" fill="#dae319"/>
<rect x="768.47" y="183.26" width="3.02" height="3.02" fill="#c8e020"/>
<rect x="771.44" y="183.26" width="3.02" height="3.02" fill="#b0dd2f"/>
<rect x="774.40" y="183.26" width="3.02" height="3.02" fill="#95d840"/>
<rect x="777.37" y="183.26" width="3.02" height="3.02" fill="#93d741"/>
<rect x="780.34" y="183.26" width="3.02" height="3.02" fill="#4ec36b"/>
<rect x="783.31" y="183.26" width="3.02" height="3.02" fill="#2ab07f"/>
<rect x="786.27" y="183.26" width="3.02" height="3.02" fill="#2b758e"/>
<rect x="789.24" y="183.26" width="3.02" height="3.02" fill="#2b758e"/>
<rect x="792.21" y="183.26" width="3.02" height="3.02" fill="#2b758e"/>
<rect x="795.18" y="183.26" width="3.02" height="3.02" fill="#31688e"/>
<rect x="801.11" y="183.26" width="3.02" height="3.02" fill="#31688e"/>
<rect x="804.08" y="183.26" width="3.02" height="3.02" fill="#31688e"/>
<rect x="807.05" y="183.26" width="3.02" height="3.02" fill="#31688e"/>
<rect x="810.01" y="183.26" width="3.02" height="3.02" fill="#31688e"/>
<rect x="824.85" y="183.26" width="3.02" height="3.02" fill="#31688e"/>
<rect x="848.59" y="183.26" width="3.02" height="3.02" fill="#31688e"/>
<rect x="851.56" y="183.26" width="3.02" height="3.02" fill="#31688e"/>
<rect x="637.90" y="186.23" width="3.02" height="3.02" fill="#31688e"/>
<rect x="655.70" y="186.23" width="3.02" height="3.02" fill="#31688e"/>
<rect x="670.54" y="186.23" width="3.02" height="3.02" fill="#31688e"/>
<rect x="685.38" y="186.23" width="3.02" height="3.02" fill="#31688e"/>
<rect x="720.99" y="186.23" width="3.02" height="3.02" fill="#31688e"/>
<rect x="726.92" y="186.23" width="3.02" height="3.02" fill="#31688e"/>
<rect x="729.89" y="186.23" width="3.02" height="3.02" fill="#1f948c"/>
<rect x="732.86" y="186.23" width="3.02" height="3.02" fill="#31688e"/>
<rect x="735.83" y="186.23" width="3.02" height="3.02" fill="#31688e"/>
<rect x="738.79" y="186.23" width="3.02" height="3.02" fill="#2b758e"/>
<rect x="741.76" y="186.23" width="3.02" height="3.02" fill="#228d8d"/>
<rect x="744.73" y="186.23" width="3.02" height="3.02" fill="#32b67a"/>
<rect x="747.70" y="186.23" width="3.02" height="3.02" fill="#56c667"/>
<rect x="750.66" y="186.23" width="3.02" height="3.02" fill="#7cd250"/>
<rect x="753.63" y="186.23" width="3.02" height="3.02" fill="#8ed645"/>
<rect x="756.60" y="186.23" width="3.02" height="3.02" fill="#d5e21a"/>
<rect x="759.57" y="186.23" width="3.02" height="3.02" fill="#d8e219"/>
<rect x="762.53" y="186.23" width="3.02" height="3.02" fill="#e2e418"/>
<rect x="765.50" y="186.23" width="3.02" height="3.02" fill="#f6e620"/>
<rect x="768.47" y="186.23" width="3.02" height="3.02" fill="#dde318"/>
<rect x="771.44" y="186.23" width="3.02" height="3.02" fill="#d0e11c"/>
<rect x="774.40" y="186.23" width="3.02" height="3.02" fill="#c0df25"/>
<rect x="777.37" y="186.23" width="3.02" height="3.02" fill="#93d741"/>
<rect x="780.34" y="186.23" width="3.02" height="3.02" fill="#4ec36b"/>
<rect x="783.31" y="186.23" width="3.02" height="3.02" fill="#20a386"/>
<rect x="786.27" y="186.23" width="3.02" height="3.02" fill="#22a785"/>
<rect x="789.24" y="186.23" width="3.02" height="3.02" fill="#2b758e"/>
<rect x="792.21" y="186.23" width="3.02" height="3.02" fill="#2b758e"/>
<rect x="795.18" y="186.23" width="3.02" height="3.02" fill="#228d8d"/>
<rect x="798.14" y="186.23" width="3.02" height="3.02" fill="#31688e"/>
<rect x="804.08" y="186.23" width="3.02" height="3.02" fill="#31688e"/>
<rect x="715.05" y="189.20" width="3.02" height="3.02" fill="#31688e"/>
<rect x="720.99" y="189.20" width="3.02" height="3.02" fill="#31688e"/>
<rect x="726.92" y="189.20" width="3.02" height="3.02" fill="#31688e"/>
<rect x="732.86" y="189.20" width="3.02" height="3.02" fill="#2b758e"/>
<rect x="738.79" y="189.20" width="3.02" height="3.02" fill="#2b758e"/>
<rect x="741.76" y="189.20" width="3.02" height="3.02" fill="#1f9f88"/>
<rect x="744.73" y="189.20" width="3.02" height="3.02" fill="#20a386"/>
<rect x="747.70" y="189.20" width="3.02" height="3.02" fill="#4ac16d"/>
<rect x="750.66" y="189.20" width="3.02" height="3.02" fill="#8bd646"/>
<rect x="753.63" y="189.20" width="3.02" height="3.02" fill="#a2da37"/>
<rect x="756.60" y="189.20" width="3.02" height="3.02" fill="#d5e21a"/>
<rect x="759.57" y="189.20" width="3.02" height="3.02" fill="#e5e419"/>
<rect x="762.53" y="189.20" width="3.02" height="3.02" fill="#fbe723"/>
<rect x="765.50" y="189.20" width="3.02" height="3.02" fill="#f4e61e"/>
<rect x="768.47" y="189.20" width="3.02" height="3.02" fill="#f8e621"/>
<rect x="771.44" y="189.20" width="3.02" height="3.02" fill="#dde318"/>
<rect x="774.40" y="189.20" width="3.02" height="3.02" fill="#c0df25"/>
<rect x="777.37" y="189.20" width="3.02" height="3.02" fill="#7fd34e"/>
<rect x="780.34" y="189.20" width="3.02" height="3.02" fill="#70cf57"/>
<rect x="783.31" y="189.20" width="3.02" height="3.02" fill="#3bbb75"/>
<rect x="786.27" y="189.20" width="3.02" height="3.02" fill="#1f9f88"/>
<rect x="789.24" y="189.20" width="3.02" height="3.02" fill="#1f9a8a"/>
<rect x="792.21" y="189.20" width="3.02" height="3.02" fill="#2b758e"/>
<rect x="795.18" y="189.20" width="3.02" height="3.02" fill="#31688e"/>
<rect x="798.14" y="189.20" width="3.02" height="3.02" fill="#31688e"/>
<rect x="804.08" y="189.20" width="3.02" height="3.02" fill="#25838e"/>
<rect x="815.95" y="189.20" width="3.02" height="3.02" fill="#31688e"/>
<rect x="827.82" y="189.20" width="3.02" height="3.02" fill="#31688e"/>
<rect x="584.49" y="192.17" width="3.02" height="3.02" fill="#31688e"/>
<rect x="709.12" y="192.17" width="3.02" height="3.02" fill="#31688e"/>
<rect x="715.05" y="192.17" width="3.02" height="3.02" fill="#31688e"/>
<rect x="729.89" y="192.17" width="3.02" height="3.02" fill="#2b758e"/>
<rect x="732.86" y="192.17" width="3.02" height="3.02" fill="#31688e"/>
<rect x="735.83" y="192.17" width="3.02" height="3.02" fill="#2b758e"/>
<rect x="738.79" y="192.17" width="3.02" height="3.02" fill="#2b758e"/>
<rect x="741.76" y="192.17" width="3.02" height="3.02" fill="#1f9a8a"/>
<rect x="744.73" y="192.17" width="3.02" height="3.02" fill="#22a785"/>
<rect x="747.70" y="192.17" width="3.02" height="3.02" fill="#2ab07f"/>
<rect x="750.66" y="192.17" width="3.02" height="3.02" fill="#7fd34e"/>
<rect x="753.63" y="192.17" width="3.02" height="3.02" fill="#a2da37"/>
<rect x="756.60" y="192.17" width="3.02" height="3.02" fill="#d5e21a"/>
<rect x="759.57" y="192.17" width="3.02" height="3.02" fill="#ece51b"/>
<rect x="762.53" y="192.17" width="3.02" height="3.02" fill="#f6e620"/>
<rect x="765.50" y="192.17" width="3.02" height="3.02" fill="#fde725"/>
<rect x="768.47" y="192.17" width="3.02" height="3.02" fill="#f1e51d"/>
<rect x="771.44" y="192.17" width="3.02" height="3.02" fill="#eae51a"/>
<rect x="774.40" y="192.17" width="3.02" height="3.02" fill="#bddf26"/>
<rect x="777.37" y="192.17" width="3.02" height="3.02" fill="#a5db36"/>
<rect x="780.34" y="192.17" width="3.02" height="3.02" fill="#4ac16d"/>
<rect x="783.31" y="192.17" width="3.02" height="3.02" fill="#25ab82"/>
<rect x="786.27" y="192.17" width="3.02" height="3.02" fill="#22a785"/>
<rect x="789.24" y="192.17" width="3.02" height="3.02" fill="#25838e"/>
<rect x="792.21" y="192.17" width="3.02" height="3.02" fill="#2b758e"/>
<rect x="795.18" y="192.17" width="3.02" height="3.02" fill="#228d8d"/>
<rect x="801.11" y="192.17" width="3.02" height="3.02" fill="#31688e"/>
<rect x="812.98" y="192.17" width="3.02" height="3.02" fill="#31688e"/>
<rect x="818.92" y="192.17" width="3.02" height="3.02" fill="#31688e"/>
<rect x="827.82" y="192.17" width="3.02" height="3.02" fill="#31688e"/>
<rect x="854.53" y="192.17" width="3.02" height="3.02" fill="#31688e"/>
<rect x="626.03" y="195.13" width="3.02" height="3.02" fill="#31688e"/>
<rect x="718.02" y="195.13" width="3.02" height="3.02" fill="#31688e"/>
<rect x="720.99" y="195.13" width="3.02" height="3.02" fill="#31688e"/>
<rect x="723.96" y="195.13" width="3.02" height="3.02" fill="#31688e"/>
<rect x="726.92" y="195.13" width="3.02" height="3.02" fill="#31688e"/>
<rect x="729.89" y="195.13" width="3.02" height="3.02" fill="#2b758e"/>
<rect x="732.86" y="195.13" width="3.02" height="3.02" fill="#2b758e"/>
<rect x="735.83" y="195.13" width="3.02" height="3.02" fill="#31688e"/>
<rect x="738.79" y="195.13" width="3.02" height="3.02" fill="#2b758e"/>
<rect x="741.76" y="195.13" width="3.02" height="3.02" fill="#228d8d"/>
<rect x="744.73" y="195.13" width="3.02" height="3.02" fill="#35b779"/>
<rect x="747.70" y="195.13" width="3.02" height="3.02" fill="#46c06f"/>
<rect x="750.66" y="195.13" width="3.02" height="3.02" fill="#73d056"/>
<rect x="753.63" y="195.13" width="3.02" height="3.02" fill="#a0da39"/>
<rect x="756.60" y="195.13" width="3.02" height="3.02" fill="#cde11d"/>
<rect x="759.57" y="195.13" width="3.02" height="3.02" fill="#e7e419"/>
<rect x="762.53" y="195.13" width="3.02" height="3.02" fill="#eae51a"/>
<rect x="765.50" y="195.13" width="3.02" height="3.02" fill="#f8e621"/>
<rect x="768.47" y="195.13" width="3.02" height="3.02" fill="#efe51c"/>
<rect x="771.44" y="195.13" width="3.02" height="3.02" fill="#dae319"/>
<rect x="774.40" y="195.13" width="3.02" height="3.02" fill="#cde11d"/>
<rect x="777.37" y="195.13" width="3.02" height="3.02" fill="#93d741"/>
<rect x="780.34" y="195.13" width="3.02" height="3.02" fill="#77d153"/>
<rect x="783.31" y="195.13" width="3.02" height="3.02" fill="#2eb37c"/>
<rect x="786.27" y="195.13" width="3.02" height="3.02" fill="#1f948c"/>
<rect x="789.24" y="195.13" width="3.02" height="3.02" fill="#228d8d"/>
<rect x="792.21" y="195.13" width="3.02" height="3.02" fill="#2b758e"/>
<rect x="795.18" y="195.13" width="3.02" height="3.02" fill="#31688e"/>
<rect x="812.98" y="195.13" width="3.02" height="3.02" fill="#31688e"/>
<rect x="667.57" y="198.10" width="3.02" height="3.02" fill="#31688e"/>
<rect x="723.96" y="198.10" width="3.02" height="3.02" fill="#31688e"/>
<rect x="732.86" y="198.10" width="3.02" height="3.02" fill="#31688e"/>
<rect x="735.83" y="198.10" width="3.02" height="3.02" fill="#2b758e"/>
<rect x="738.79" y="198.10" width="3.02" height="3.02" fill="#1f9a8a"/>
<rect x="741.76" y="198.10" width="3.02" height="3.02" fill="#228d8d"/>
<rect x="744.73" y="198.10" width="3.02" height="3.02" fill="#1f9a8a"/>
<rect x="747.70" y="198.10" width="3.02" height="3.02" fill="#2eb37c"/>
<rect x="750.66" y="198.10" width="3.02" height="3.02" fill="#56c667"/>
<rect x="753.63" y="198.10" width="3.02" height="3.02" fill="#8bd646"/>
<rect x="756.60" y="198.10" width="3.02" height="3.02" fill="#aadc32"/>
<rect x="759.57" y="198.10" width="3.02" height="3.02" fill="#d0e11c"/>
<rect x="762.53" y="198.10" width="3.02" height="3.02" fill="#e2e418"/>
<rect x="765.50" y="198.10" width="3.02" height="3.02" fill="#ece51b"/>
<rect x="768.47" y="198.10" width="3.02" height="3.02" fill="#e2e418"/>
<rect x="771.44" y="198.10" width="3.02" height="3.02" fill="#c2df23"/>
<rect x="774.40" y="198.10" width="3.02" height="3.02" fill="#b0dd2f"/>
<rect x="777.37" y="198.10" width="3.02" height="3.02" fill="#86d549"/>
<rect x="780.34" y="198.10" width="3.02" height="3.02" fill="#4ec36b"/>
<rect x="783.31" y="198.10" width="3.02" height="3.02" fill="#1f9f88"/>
<rect x="786.27" y="198.10" width="3.02" height="3.02" fill="#20a386"/>
<rect x="789.24" y="198.10" width="3.02" height="3.02" fill="#1f9a8a"/>
<rect x="792.21" y="198.10" width="3.02" height="3.02" fill="#228d8d"/>
<rect x="804.08" y="198.10" width="3.02" height="3.02" fill="#31688e"/>
<rect x="807.05" y="198.10" width="3.02" height="3.02" fill="#31688e"/>
<rect x="578.55" y="201.07" width="3.02" height="3.02" fill="#31688e"/>
<rect x="735.83" y="201.07" width="3.02" height="3.02" fill="#25838e"/>
<rect x="741.76" y="201.07" width="3.02" height="3.02" fill="#31688e"/>
<rect x="744.73" y="201.07" width="3.02" height="3.02" fill="#1f948c"/>
<rect x="747.70" y="201.07" width="3.02" height="3.02" fill="#27ad81"/>
<rect x="750.66" y="201.07" width="3.02" height="3.02" fill="#4ec36b"/>
<rect x="753.63" y="201.07" width="3.02" height="3.02" fill="#7ad151"/>
<rect x="756.60" y="201.07" width="3.02" height="3.02" fill="#77d153"/>
<rect x="759.57" y="201.07" width="3.02" height="3.02" fill="#b2dd2d"/>
<rect x="762.53" y="201.07" width="3.02" height="3.02" fill="#c2df23"/>
<rect x="765.50" y="201.07" width="3.02" height="3.02" fill="#bade28"/>
<rect x="768.47" y="201.07" width="3.02" height="3.02" fill="#d0e11c"/>
<rect x="771.44" y="201.07" width="3.02" height="3.02" fill="#b2dd2d"/>
<rect x="774.40" y="201.07" width="3.02" height="3.02" fill="#86d549"/>
<rect x="777.37" y="201.07" width="3.02" height="3.02" fill="#42be71"/>
<rect x="780.34" y="201.07" width="3.02" height="3.02" fill="#42be71"/>
<rect x="783.31" y="201.07" width="3.02" height="3.02" fill="#22a785"/>
<rect x="786.27" y="201.07" width="3.02" height="3.02" fill="#228d8d"/>
<rect x="789.24" y="201.07" width="3.02" height="3.02" fill="#25838e"/>
<rect x="792.21" y="201.07" width="3.02" height="3.02" fill="#25838e"/>
<rect x="795.18" y="201.07" width="3.02" height="3.02" fill="#31688e"/>
<rect x="798.14" y="201.07" width="3.02" height="3.02" fill="#31688e"/>
<rect x="804.08" y="201.07" width="3.02" height="3.02" fill="#31688e"/>
<rect x="842.66" y="201.07" width="3.02" height="3.02" fill="#31688e"/>
<rect x="679.44" y="204.04" width="3.02" height="3.02" fill="#31688e"/>
<rect x="720.99" y="204.04" width="3.02" height="3.02" fill="#31688e"/>
<rect x="723.96" y="204.04" width="3.02" height="3.02" fill="#31688e"/>
<rect x="726.92" y="204.04" width="3.02" height="3.02" fill="#31688e"/>
<rect x="735.83" y="204.04" width="3.02" height="3.02" fill="#31688e"/>
<rect x="738.79" y="204.04" width="3.02" height="3.02" fill="#228d8d"/>
<rect x="741.76" y="204.04" width="3.02" height="3.02" fill="#2b758e"/>
<rect x="744.73" y="204.04" width="3.02" height="3.02" fill="#2b758e"/>
<rect x="747.70" y="204.04" width="3.02" height="3.02" fill="#32b67a"/>
<rect x="750.66" y="204.04" width="3.02" height="3.02" fill="#22a785"/>
<rect x="753.63" y="204.04" width="3.02" height="3.02" fill="#58c765"/>
<rect x="756.60" y="204.04" width="3.02" height="3.02" fill="#6ccd5a"/>
<rect x="759.57" y="204.04" width="3.02" height="3.02" fill="#98d83e"/>
<rect x="762.53" y="204.04" width="3.02" height="3.02" fill="#98d83e"/>
<rect x="765.50" y="204.04" width="3.02" height="3.02" fill="#9dd93b"/>
<rect x="768.47" y="204.04" width="3.02" height="3.02" fill="#98d83e"/>
<rect x="771.44" y="204.04" width="3.02" height="3.02" fill="#86d549"/>
<rect x="774.40" y="204.04" width="3.02" height="3.02" fill="#5ec962"/>
<rect x="777.37" y="204.04" width="3.02" height="3.02" fill="#5cc863"/>
<rect x="780.34" y="204.04" width="3.02" height="3.02" fill="#22a785"/>
<rect x="783.31" y="204.04" width="3.02" height="3.02" fill="#1f9a8a"/>
<rect x="786.27" y="204.04" width="3.02" height="3.02" fill="#228d8d"/>
<rect x="789.24" y="204.04" width="3.02" height="3.02" fill="#25838e"/>
<rect x="798.14" y="204.04" width="3.02" height="3.02" fill="#31688e"/>
<rect x="611.19" y="207.00" width="3.02" height="3.02" fill="#31688e"/>
<rect x="688.35" y="207.00" width="3.02" height="3.02" fill="#31688e"/>
<rect x="715.05" y="207.00" width="3.02" height="3.02" fill="#31688e"/>
<rect x="723.96" y="207.00" width="3.02" height="3.02" fill="#31688e"/>
<rect x="729.89" y="207.00" width="3.02" height="3.02" fill="#2b758e"/>
<rect x="732.86" y="207.00" width="3.02" height="3.02" fill="#31688e"/>
<rect x="738.79" y="207.00" width="3.02" height="3.02" fill="#2b758e"/>
<rect x="741.76" y="207.00" width="3.02" height="3.02" fill="#2b758e"/>
<rect x="744.73" y="207.00" width="3.02" height="3.02" fill="#1f948c"/>
<rect x="747.70" y="207.00" width="3.02" height="3.02" fill="#1f948c"/>
<rect x="750.66" y="207.00" width="3.02" height="3.02" fill="#20a386"/>
<rect x="753.63" y="207.00" width="3.02" height="3.02" fill="#2ab07f"/>
<rect x="756.60" y="207.00" width="3.02" height="3.02" fill="#56c667"/>
<rect x="759.57" y="207.00" width="3.02" height="3.02" fill="#60ca60"/>
<rect x="762.53" y="207.00" width="3.02" height="3.02" fill="#4ac16d"/>
<rect x="765.50" y="207.00" width="3.02" height="3.02" fill="#69cd5b"/>
<rect x="768.47" y="207.00" width="3.02" height="3.02" fill="#63cb5f"/>
<rect x="771.44" y="207.00" width="3.02" height="3.02" fill="#4ac16d"/>
<rect x="774.40" y="207.00" width="3.02" height="3.02" fill="#38b977"/>
<rect x="777.37" y="207.00" width="3.02" height="3.02" fill="#20a386"/>
<rect x="780.34" y="207.00" width="3.02" height="3.02" fill="#1f948c"/>
<rect x="783.31" y="207.00" width="3.02" height="3.02" fill="#1f948c"/>
<rect x="786.27" y="207.00" width="3.02" height="3.02" fill="#25838e"/>
<rect x="815.95" y="207.00" width="3.02" height="3.02" fill="#31688e"/>
<rect x="845.62" y="207.00" width="3.02" height="3.02" fill="#31688e"/>
<rect x="617.13" y="209.97" width="3.02" height="3.02" fill="#31688e"/>
<rect x="649.77" y="209.97" width="3.02" height="3.02" fill="#31688e"/>
<rect x="679.44" y="209.97" width="3.02" height="3.02" fill="#31688e"/>
<rect x="700.22" y="209.97" width="3.02" height="3.02" fill="#31688e"/>
<rect x="732.86" y="209.97" width="3.02" height="3.02" fill="#31688e"/>
<rect x="735.83" y="209.97" width="3.02" height="3.02" fill="#31688e"/>
<rect x="738.79" y="209.97" width="3.02" height="3.02" fill="#31688e"/>
<rect x="741.76" y="209.97" width="3.02" height="3.02" fill="#2b758e"/>
<rect x="744.73" y="209.97" width="3.02" height="3.02" fill="#31688e"/>
<rect x="747.70" y="209.97" width="3.02" height="3.02" fill="#31688e"/>
<rect x="750.66" y="209.97" width="3.02" height="3.02" fill="#25838e"/>
<rect x="753.63" y="209.97" width="3.02" height="3.02" fill="#1f9a8a"/>
<rect x="756.60" y="209.97" width="3.02" height="3.02" fill="#22a785"/>
<rect x="759.57" y="209.97" width="3.02" height="3.02" fill="#38b977"/>
<rect x="762.53" y="209.97" width="3.02" height="3.02" fill="#27ad81"/>
<rect x="765.50" y="209.97" width="3.02" height="3.02" fill="#42be71"/>
<rect x="768.47" y="209.97" width="3.02" height="3.02" fill="#35b779"/>
<rect x="771.44" y="209.97" width="3.02" height="3.02" fill="#20a386"/>
<rect x="774.40" y="209.97" width="3.02" height="3.02" fill="#2ab07f"/>
<rect x="777.37" y="209.97" width="3.02" height="3.02" fill="#1f9a8a"/>
<rect x="780.34" y="209.97" width="3.02" height="3.02" fill="#1f9f88"/>
<rect x="783.31" y="209.97" width="3.02" height="3.02" fill="#31688e"/>
<rect x="786.27" y="209.97" width="3.02" height="3.02" fill="#25838e"/>
<rect x="789.24" y="209.97" width="3.02" height="3.02" fill="#31688e"/>
<rect x="810.01" y="209.97" width="3.02" height="3.02" fill="#31688e"/>
<rect x="818.92" y="209.97" width="3.02" height="3.02" fill="#31688e"/>
<rect x="833.75" y="209.97" width="3.02" height="3.02" fill="#31688e"/>
<rect x="694.28" y="212.94" width="3.02" height="3.02" fill="#31688e"/>
<rect x="732.86" y="212.94" width="3.02" height="3.02" fill="#31688e"/>
<rect x="735.83" y="212.94" width="3.02" height="3.02" fill="#2b758e"/>
<rect x="738.79" y="212.94" width="3.02" height="3.02" fill="#2b758e"/>
<rect x="747.70" y="212.94" width="3.02" height="3.02" fill="#2b758e"/>
<rect x="750.66" y="212.94" width="3.02" height="3.02" fill="#228d8d"/>
<rect x="753.63" y="212.94" width="3.02" height="3.02" fill="#1f948c"/>
<rect x="756.60" y="212.94" width="3.02" height="3.02" fill="#25ab82"/>
<rect x="759.57" y="212.94" width="3.02" height="3.02" fill="#25838e"/>
<rect x="762.53" y="212.94" width="3.02" height="3.02" fill="#27ad81"/>
<rect x="765.50" y="212.94" width="3.02" height="3.02" fill="#35b779"/>
<rect x="768.47" y="212.94" width="3.02" height="3.02" fill="#20a386"/>
<rect x="771.44" y="212.94" width="3.02" height="3.02" fill="#1f9a8a"/>
<rect x="774.40" y="212.94" width="3.02" height="3.02" fill="#1f9f88"/>
<rect x="777.37" y="212.94" width="3.02" height="3.02" fill="#1f9a8a"/>
<rect x="780.34" y="212.94" width="3.02" height="3.02" fill="#2b758e"/>
<rect x="789.24" y="212.94" width="3.02" height="3.02" fill="#31688e"/>
<rect x="792.21" y="212.94" width="3.02" height="3.02" fill="#31688e"/>
<rect x="798.14" y="212.94" width="3.02" height="3.02" fill="#31688e"/>
<rect x="590.42" y="215.91" width="3.02" height="3.02" fill="#31688e"/>
<rect x="718.02" y="215.91" width="3.02" height="3.02" fill="#31688e"/>
<rect x="726.92" y="215.91" width="3.02" height="3.02" fill="#31688e"/>
<rect x="729.89" y="215.91" width="3.02" height="3.02" fill="#31688e"/>
<rect x="732.86" y="215.91" width="3.02" height="3.02" fill="#31688e"/>
<rect x="735.83" y="215.91" width="3.02" height="3.02" fill="#31688e"/>
<rect x="747.70" y="215.91" width="3.02" height="3.02" fill="#25838e"/>
<rect x="750.66" y="215.91" width="3.02" height="3.02" fill="#31688e"/>
<rect x="753.63" y="215.91" width="3.02" height="3.02" fill="#31688e"/>
<rect x="756.60" y="215.91" width="3.02" height="3.02" fill="#25838e"/>
<rect x="759.57" y="215.91" width="3.02" height="3.02" fill="#1f9a8a"/>
<rect x="762.53" y="215.91" width="3.02" height="3.02" fill="#228d8d"/>
<rect x="765.50" y="215.91" width="3.02" height="3.02" fill="#25838e"/>
<rect x="768.47" y="215.91" width="3.02" height="3.02" fill="#2b758e"/>
<rect x="771.44" y="215.91" width="3.02" height="3.02" fill="#2b758e"/>
<rect x="774.40" y="215.91" width="3.02" height="3.02" fill="#1f9f88"/>
<rect x="777.37" y="215.91" width="3.02" height="3.02" fill="#228d8d"/>
<rect x="780.34" y="215.91" width="3.02" height="3.02" fill="#31688e"/>
<rect x="783.31" y="215.91" width="3.02" height="3.02" fill="#2b758e"/>
<rect x="786.27" y="215.91" width="3.02" height="3.02" fill="#2b758e"/>
<rect x="810.01" y="215.91" width="3.02" height="3.02" fill="#31688e"/>
<rect x="821.88" y="215.91" width="3.02" height="3.02" fill="#31688e"/>
<rect x="703.18" y="218.87" width="3.02" height="3.02" fill="#31688e"/>
<rect x="712.09" y="218.87" width="3.02" height="3.02" fill="#31688e"/>
<rect x="729.89" y="218.87" width="3.02" height="3.02" fill="#31688e"/>
<rect x="732.86" y="218.87" width="3.02" height="3.02" fill="#25838e"/>
<rect x="750.66" y="218.87" width="3.02" height="3.02" fill="#31688e"/>
<rect x="756.60" y="218.87" width="3.02" height="3.02" fill="#25838e"/>
<rect x="759.57" y="218.87" width="3.02" height="3.02" fill="#25838e"/>
<rect x="762.53" y="218.87" width="3.02" height="3.02" fill="#31688e"/>
<rect x="765.50" y="218.87" width="3.02" height="3.02" fill="#31688e"/>
<rect x="768.47" y="218.87" width="3.02" height="3.02" fill="#1f9a8a"/>
<rect x="771.44" y="218.87" width="3.02" height="3.02" fill="#228d8d"/>
<rect x="774.40" y="218.87" width="3.02" height="3.02" fill="#2b758e"/>
<rect x="777.37" y="218.87" width="3.02" height="3.02" fill="#2b758e"/>
<rect x="780.34" y="218.87" width="3.02" height="3.02" fill="#31688e"/>
<rect x="783.31" y="218.87" width="3.02" height="3.02" fill="#31688e"/>
<rect x="795.18" y="218.87" width="3.02" height="3.02" fill="#31688e"/>
<rect x="798.14" y="218.87" width="3.02" height="3.02" fill="#31688e"/>
<rect x="815.95" y="218.87" width="3.02" height="3.02" fill="#31688e"/>
<rect x="842.66" y="218.87" width="3.02" height="3.02" fill="#31688e"/>
<rect x="902.01" y="218.87" width="3.02" height="3.02" fill="#31688e"/>
<rect x="664.61" y="221.84" width="3.02" height="3.02" fill="#31688e"/>
<rect x="729.89" y="221.84" width="3.02" height="3.02" fill="#31688e"/>
<rect x="735.83" y="221.84" width="3.02" height="3.02" fill="#31688e"/>
<rect x="744.73" y="221.84" width="3.02" height="3.02" fill="#228d8d"/>
<rect x="750.66" y="221.84" width="3.02" height="3.02" fill="#31688e"/>
<rect x="753.63" y="221.84" width="3.02" height="3.02" fill="#2b758e"/>
<rect x="756.60" y="221.84" width="3.02" height="3.02" fill="#2b758e"/>
<rect x="759.57" y="221.84" width="3.02" height="3.02" fill="#2b758e"/>
<rect x="765.50" y="221.84" width="3.02" height="3.02" fill="#1f948c"/>
<rect x="768.47" y="221.84" width="3.02" height="3.02" fill="#2b758e"/>
<rect x="774.40" y="221.84" width="3.02" height="3.02" fill="#31688e"/>
<rect x="789.24" y="221.84" width="3.02" height="3.02" fill="#31688e"/>
<rect x="795.18" y="221.84" width="3.02" height="3.02" fill="#31688e"/>
<rect x="866.40" y="221.84" width="3.02" height="3.02" fill="#31688e"/>
<rect x="661.64" y="224.81" width="3.02" height="3.02" fill="#31688e"/>
<rect x="732.86" y="224.81" width="3.02" height="3.02" fill="#31688e"/>
<rect x="738.79" y="224.81" width="3.02" height="3.02" fill="#31688e"/>
<rect x="744.73" y="224.81" width="3.02" height="3.02" fill="#2b758e"/>
<rect x="747.70" y="224.81" width="3.02" height="3.02" fill="#31688e"/>
<rect x="756.60" y="224.81" width="3.02" height="3.02" fill="#2b758e"/>
<rect x="762.53" y="224.81" width="3.02" height="3.02" fill="#31688e"/>
<rect x="765.50" y="224.81" width="3.02" height="3.02" fill="#2b758e"/>
<rect x="768.47" y="224.81" width="3.02" height="3.02" fill="#25838e"/>
<rect x="771.44" y="224.81" width="3.02" height="3.02" fill="#2b758e"/>
<rect x="774.40" y="224.81" width="3.02" height="3.02" fill="#31688e"/>
<rect x="777.37" y="224.81" width="3.02" height="3.02" fill="#31688e"/>
<rect x="801.11" y="224.81" width="3.02" height="3.02" fill="#31688e"/>
<rect x="827.82" y="224.81" width="3.02" height="3.02" fill="#31688e"/>
<rect x="922.78" y="224.81" width="3.02" height="3.02" fill="#31688e"/>
<rect x="726.92" y="227.78" width="3.02" height="3.02" fill="#31688e"/>
<rect x="753.63" y="227.78" width="3.02" height="3.02" fill="#31688e"/>
<rect x="756.60" y="227.78" width="3.02" height="3.02" fill="#25838e"/>
<rect x="759.57" y="227.78" width="3.02" height="3.02" fill="#31688e"/>
<rect x="762.53" y="227.78" width="3.02" height="3.02" fill="#31688e"/>
<rect x="765.50" y="227.78" width="3.02" height="3.02" fill="#31688e"/>
<rect x="768.47" y="227.78" width="3.02" height="3.02" fill="#31688e"/>
<rect x="771.44" y="227.78" width="3.02" height="3.02" fill="#2b758e"/>
<rect x="783.31" y="227.78" width="3.02" height="3.02" fill="#2b758e"/>
<rect x="786.27" y="227.78" width="3.02" height="3.02" fill="#31688e"/>
<rect x="789.24" y="227.78" width="3.02" height="3.02" fill="#31688e"/>
<rect x="798.14" y="227.78" width="3.02" height="3.02" fill="#31688e"/>
<rect x="872.33" y="227.78" width="3.02" height="3.02" fill="#31688e"/>
<rect x="723.96" y="230.74" width="3.02" height="3.02" fill="#31688e"/>
<rect x="726.92" y="230.74" width="3.02" height="3.02" fill="#31688e"/>
<rect x="735.83" y="230.74" width="3.02" height="3.02" fill="#31688e"/>
<rect x="744.73" y="230.74" width="3.02" height="3.02" fill="#31688e"/>
<rect x="747.70" y="230.74" width="3.02" height="3.02" fill="#31688e"/>
<rect x="753.63" y="230.74" width="3.02" height="3.02" fill="#31688e"/>
<rect x="756.60" y="230.74" width="3.02" height="3.02" fill="#31688e"/>
<rect x="765.50" y="230.74" width="3.02" height="3.02" fill="#31688e"/>
<rect x="768.47" y="230.74" width="3.02" height="3.02" fill="#2b758e"/>
<rect x="792.21" y="230.74" width="3.02" height="3.02" fill="#31688e"/>
<rect x="801.11" y="230.74" width="3.02" height="3.02" fill="#31688e"/>
<rect x="833.75" y="230.74" width="3.02" height="3.02" fill="#31688e"/>
<rect x="836.72" y="230.74" width="3.02" height="3.02" fill="#31688e"/>
<rect x="718.02" y="233.71" width="3.02" height="3.02" fill="#31688e"/>
<rect x="738.79" y="233.71" width="3.02" height="3.02" fill="#31688e"/>
<rect x="753.63" y="233.71" width="3.02" height="3.02" fill="#31688e"/>
<rect x="818.92" y="233.71" width="3.02" height="3.02" fill="#31688e"/>
<rect x="848.59" y="233.71" width="3.02" height="3.02" fill="#31688e"/>
<rect x="851.56" y="233.71" width="3.02" height="3.02" fill="#31688e"/>
<rect x="709.12" y="236.68" width="3.02" height="3.02" fill="#31688e"/>
<rect x="726.92" y="236.68" width="3.02" height="3.02" fill="#31688e"/>
<rect x="729.89" y="236.68" width="3.02" height="3.02" fill="#31688e"/>
<rect x="768.47" y="236.68" width="3.02" height="3.02" fill="#31688e"/>
<rect x="777.37" y="236.68" width="3.02" height="3.02" fill="#31688e"/>
<rect x="783.31" y="236.68" width="3.02" height="3.02" fill="#31688e"/>
<rect x="798.14" y="236.68" width="3.02" height="3.02" fill="#31688e"/>
<rect x="712.09" y="239.65" width="3.02" height="3.02" fill="#31688e"/>
<rect x="795.18" y="239.65" width="3.02" height="3.02" fill="#31688e"/>
<rect x="732.86" y="242.61" width="3.02" height="3.02" fill="#31688e"/>
<rect x="738.79" y="242.61" width="3.02" height="3.02" fill="#31688e"/>
<rect x="777.37" y="242.61" width="3.02" height="3.02" fill="#31688e"/>
<rect x="697.25" y="245.58" width="3.02" height="3.02" fill="#31688e"/>
<rect x="700.22" y="245.58" width="3.02" height="3.02" fill="#31688e"/>
<rect x="718.02" y="245.58" width="3.02" height="3.02" fill="#31688e"/>
<rect x="744.73" y="245.58" width="3.02" height="3.02" fill="#31688e"/>
<rect x="830.79" y="245.58" width="3.02" height="3.02" fill="#31688e"/>
<rect x="643.84" y="248.55" width="3.02" height="3.02" fill="#31688e"/>
<rect x="664.61" y="248.55" width="3.02" height="3.02" fill="#31688e"/>
<rect x="735.83" y="248.55" width="3.02" height="3.02" fill="#31688e"/>
<rect x="756.60" y="248.55" width="3.02" height="3.02" fill="#31688e"/>
<rect x="759.57" y="248.55" width="3.02" height="3.02" fill="#31688e"/>
<rect x="777.37" y="248.55" width="3.02" height="3.02" fill="#31688e"/>
<rect x="646.80" y="251.52" width="3.02" height="3.02" fill="#31688e"/>
<rect x="774.40" y="251.52" width="3.02" height="3.02" fill="#31688e"/>
<rect x="786.27" y="251.52" width="3.02" height="3.02" fill="#31688e"/>
<rect x="795.18" y="251.52" width="3.02" height="3.02" fill="#31688e"/>
<rect x="756.60" y="254.48" width="3.02" height="3.02" fill="#31688e"/>
<rect x="720.99" y="257.45" width="3.02" height="3.02" fill="#31688e"/>
<rect x="756.60" y="257.45" width="3.02" height="3.02" fill="#31688e"/>
<rect x="670.54" y="260.42" width="3.02" height="3.02" fill="#31688e"/>
<rect x="712.09" y="260.42" width="3.02" height="3.02" fill="#31688e"/>
<rect x="747.70" y="260.42" width="3.02" height="3.02" fill="#31688e"/>
<rect x="765.50" y="260.42" width="3.02" height="3.02" fill="#31688e"/>
<rect x="774.40" y="260.42" width="3.02" height="3.02" fill="#31688e"/>
<rect x="792.21" y="260.42" width="3.02" height="3.02" fill="#31688e"/>
<rect x="801.11" y="260.42" width="3.02" height="3.02" fill="#31688e"/>
<rect x="735.83" y="263.39" width="3.02" height="3.02" fill="#31688e"/>
<rect x="741.76" y="263.39" width="3.02" height="3.02" fill="#31688e"/>
<rect x="774.40" y="263.39" width="3.02" height="3.02" fill="#31688e"/>
<rect x="798.14" y="263.39" width="3.02" height="3.02" fill="#31688e"/>
<rect x="700.22" y="266.35" width="3.02" height="3.02" fill="#31688e"/>
<rect x="783.31" y="266.35" width="3.02" height="3.02" fill="#31688e"/>
<rect x="700.22" y="269.32" width="3.02" height="3.02" fill="#31688e"/>
<rect x="726.92" y="269.32" width="3.02" height="3.02" fill="#31688e"/>
<rect x="774.40" y="269.32" width="3.02" height="3.02" fill="#31688e"/>
<rect x="777.37" y="269.32" width="3.02" height="3.02" fill="#31688e"/>
<rect x="780.34" y="269.32" width="3.02" height="3.02" fill="#31688e"/>
<rect x="818.92" y="269.32" width="3.02" height="3.02" fill="#31688e"/>
<rect x="729.89" y="272.29" width="3.02" height="3.02" fill="#31688e"/>
<rect x="658.67" y="275.26" width="3.02" height="3.02" fill="#31688e"/>
<rect x="768.47" y="278.22" width="3.02" height="3.02" fill="#31688e"/>
<rect x="925.75" y="278.22" width="3.02" height="3.02" fill="#31688e"/>
<rect x="928.71" y="278.22" width="3.02" height="3.02" fill="#31688e"/>
<rect x="581.52" y="281.19" width="3.02" height="3.02" fill="#31688e"/>
<rect x="620.10" y="281.19" width="3.02" height="3.02" fill="#31688e"/>
<rect x="623.06" y="281.19" width="3.02" height="3.02" fill="#31688e"/>
<rect x="726.92" y="281.19" width="3.02" height="3.02" fill="#31688e"/>
<rect x="801.11" y="281.19" width="3.02" height="3.02" fill="#31688e"/>
<rect x="937.62" y="287.13" width="3.02" height="3.02" fill="#31688e"/>
<rect x="646.80" y="293.06" width="3.02" height="3.02" fill="#31688e"/>
<rect x="735.83" y="293.06" width="3.02" height="3.02" fill="#31688e"/>
<rect x="712.09" y="296.03" width="3.02" height="3.02" fill="#31688e"/>
<rect x="667.57" y="299.00" width="3.02" height="3.02" fill="#31688e"/>
<rect x="798.14" y="301.96" width="3.02" height="3.02" fill="#31688e"/>
<rect x="824.85" y="301.96" width="3.02" height="3.02" fill="#31688e"/>
<rect x="824.85" y="307.90" width="3.02" height="3.02" fill="#31688e"/>
<rect x="723.96" y="310.87" width="3.02" height="3.02" fill="#31688e"/>
<rect x="634.93" y="313.83" width="3.02" height="3.02" fill="#31688e"/>
<rect x="765.50" y="316.80" width="3.02" height="3.02" fill="#31688e"/>
<rect x="712.09" y="322.74" width="3.02" height="3.02" fill="#31688e"/>
<rect x="599.32" y="325.70" width="3.02" height="3.02" fill="#31688e"/>
<rect x="720.99" y="331.64" width="3.02" height="3.02" fill="#31688e"/>
<rect x="815.95" y="334.61" width="3.02" height="3.02" fill="#31688e"/>
<rect x="587.45" y="337.57" width="3.02" height="3.02" fill="#31688e"/>
<rect x="706.15" y="340.54" width="3.02" height="3.02" fill="#31688e"/>
<rect x="795.18" y="340.54" width="3.02" height="3.02" fill="#31688e"/>
<rect x="691.31" y="346.48" width="3.02" height="3.02" fill="#31688e"/>
<rect x="741.76" y="346.48" width="3.02" height="3.02" fill="#31688e"/>
<rect x="896.07" y="352.41" width="3.02" height="3.02" fill="#31688e"/>
<rect x="804.08" y="355.38" width="3.02" height="3.02" fill="#31688e"/>
<rect x="818.92" y="376.15" width="3.02" height="3.02" fill="#31688e"/>
<rect x="910.91" y="376.15" width="3.02" height="3.02" fill="#31688e"/>
</g>
<path d="M582.6 0v3.8M582.6 378.6v-3.8M589.6 0v6.5M589.6 378.6v-6.5M596.6 0v3.8M596.6 378.6v-3.8M603.7 0v3.8M603.7 378.6v-3.8M610.7 0v3.8M610.7 378.6v-3.8M617.8 0v3.8M617.8 378.6v-3.8M624.8 0v6.5M624.8 378.6v-6.5M631.8 0v3.8M631.8 378.6v-3.8M638.9 0v3.8M638.9 378.6v-3.8M645.9 0v3.8M645.9 378.6v-3.8M653.0 0v3.8M653.0 378.6v-3.8M660.0 0v6.5M660.0 378.6v-6.5M667.0 0v3.8M667.0 378.6v-3.8M674.1 0v3.8M674.1 378.6v-3.8M681.1 0v3.8M681.1 378.6v-3.8M688.2 0v3.8M688.2 378.6v-3.8M695.2 0v6.5M695.2 378.6v-6.5M702.2 0v3.8M702.2 378.6v-3.8M709.3 0v3.8M709.3 378.6v-3.8M716.3 0v3.8M716.3 378.6v-3.8M723.4 0v3.8M723.4 378.6v-3.8M730.4 0v6.5M730.4 378.6v-6.5M737.4 0v3.8M737.4 378.6v-3.8M744.5 0v3.8M744.5 378.6v-3.8M751.5 0v3.8M751.5 378.6v-3.8M758.6 0v3.8M758.6 378.6v-3.8M765.6 0v6.5M765.6 378.6v-6.5M772.6 0v3.8M772.6 378.6v-3.8M779.7 0v3.8M779.7 378.6v-3.8M786.7 0v3.8M786.7 378.6v-3.8M793.8 0v3.8M793.8 378.6v-3.8M800.8 0v6.5M800.8 378.6v-6.5M807.8 0v3.8M807.8 378.6v-3.8M814.9 0v3.8M814.9 378.6v-3.8M821.9 0v3.8M821.9 378.6v-3.8M829.0 0v3.8M829.0 378.6v-3.8M836.0 0v6.5M836.0 378.6v-6.5M843.0 0v3.8M843.0 378.6v-3.8M850.1 0v3.8M850.1 378.6v-3.8M857.1 0v3.8M857.1 378.6v-3.8M864.2 0v3.8M864.2 378.6v-3.8M871.2 0v6.5M871.2 378.6v-6.5M878.2 0v3.8M878.2 378.6v-3.8M885.3 0v3.8M885.3 378.6v-3.8M892.3 0v3.8M892.3 378.6v-3.8M899.4 0v3.8M899.4 378.6v-3.8M906.4 0v6.5M906.4 378.6v-6.5M913.4 0v3.8M913.4 378.6v-3.8M920.5 0v3.8M920.5 378.6v-3.8M927.5 0v3.8M927.5 378.6v-3.8M934.6 0v3.8M934.6 378.6v-3.8M941.6 0v6.5M941.6 378.6v-6.5M948.6 0v3.8M948.6 378.6v-3.8M955.7 0v3.8M955.7 378.6v-3.8M579 0.6h5.5M956.4 0.9h-5.5M579 12.6h3.2M956.4 12.9h-3.2M579 24.5h3.2M956.4 24.8h-3.2M579 36.5h3.2M956.4 36.8h-3.2M579 48.5h5.5M956.4 48.8h-5.5M579 60.5h3.2M956.4 60.8h-3.2M579 72.5h3.2M956.4 72.8h-3.2M579 84.4h3.2M956.4 84.7h-3.2M579 96.4h5.5M956.4 96.7h-5.5M579 108.4h3.2M956.4 108.7h-3.2M579 120.4h3.2M956.4 120.7h-3.2M579 132.4h3.2M956.4 132.7h-3.2M579 144.3h5.5M956.4 144.6h-5.5M579 156.3h3.2M956.4 156.6h-3.2M579 168.3h3.2M956.4 168.6h-3.2M579 180.3h3.2M956.4 180.6h-3.2M579 192.3h5.5M956.4 192.6h-5.5M579 204.2h3.2M956.4 204.5h-3.2M579 216.2h3.2M956.4 216.5h-3.2M579 228.2h3.2M956.4 228.5h-3.2M579 240.2h5.5M956.4 240.5h-5.5M579 252.2h3.2M956.4 252.5h-3.2M579 264.1h3.2M956.4 264.4h-3.2M579 276.1h3.2M956.4 276.4h-3.2M579 288.1h5.5M956.4 288.4h-5.5M579 300.1h3.2M956.4 300.4h-3.2M579 312.1h3.2M956.4 312.4h-3.2M579 324.0h3.2M956.4 324.3h-3.2M579 336.0h5.5M956.4 336.3h-5.5M579 348.0h3.2M956.4 348.3h-3.2M579 360.0h3.2M956.4 360.3h-3.2M579 372.0h3.2M956.4 372.3h-3.2" stroke="#fff" stroke-opacity="0.9" stroke-width="1" fill="none"/>
<text x="835.8" y="37.9" font-size="27.5" text-anchor="middle" fill="#fff" stroke="#fff" stroke-width="0.45" textLength="44.9" lengthAdjust="spacingAndGlyphs">PSF</text>
<text x="590.8" y="401.6" font-size="26.2" text-anchor="middle" fill="#000" stroke="#000" stroke-width="0.45" textLength="44.8" lengthAdjust="spacingAndGlyphs">49.9</text>
<text x="696.2" y="401.6" font-size="26.2" text-anchor="middle" fill="#000" stroke="#000" stroke-width="0.45" textLength="44.8" lengthAdjust="spacingAndGlyphs">49.6</text>
<text x="802.2" y="401.6" font-size="26.2" text-anchor="middle" fill="#000" stroke="#000" stroke-width="0.45" textLength="44.8" lengthAdjust="spacingAndGlyphs">49.3</text>
<text x="911.5" y="401.6" font-size="26.2" text-anchor="middle" fill="#000" stroke="#000" stroke-width="0.45" textLength="112.6" lengthAdjust="spacingAndGlyphs">12:30:49.0</text>
<text x="777.5" y="440.8" font-size="27.5" text-anchor="middle" fill="#000" stroke="#000" stroke-width="0.45" textLength="176.7" lengthAdjust="spacingAndGlyphs">Right Ascension</text>
<text x="567.3" y="45.3" font-size="26.2" text-anchor="middle" fill="#000" stroke="#000" stroke-width="0.45" textLength="42.5" lengthAdjust="spacingAndGlyphs" transform="rotate(-90 567.3 45.3)">34.0</text>
<text x="567.3" y="138.4" font-size="26.2" text-anchor="middle" fill="#000" stroke="#000" stroke-width="0.45" textLength="111" lengthAdjust="spacingAndGlyphs" transform="rotate(-90 567.3 138.4)">12:23:30.0</text>
<text x="567.3" y="236.5" font-size="26.2" text-anchor="middle" fill="#000" stroke="#000" stroke-width="0.45" textLength="43" lengthAdjust="spacingAndGlyphs" transform="rotate(-90 567.3 236.5)">26.0</text>
<text x="567.3" y="333" font-size="26.2" text-anchor="middle" fill="#000" stroke="#000" stroke-width="0.45" textLength="43" lengthAdjust="spacingAndGlyphs" transform="rotate(-90 567.3 333)">22.0</text>
<text x="524" y="182" font-size="27.5" text-anchor="middle" fill="#000" stroke="#000" stroke-width="0.45" textLength="124.6" lengthAdjust="spacingAndGlyphs" transform="rotate(-90 524 182)">Declination</text>
<rect x="0" y="494.6" width="486.4" height="15" fill="url(#vg)"/>
<rect x="487" y="494.6" width="487" height="15" fill="url(#vg)"/>
<path d="M0 494.6H974" stroke="#999" stroke-width="1" stroke-opacity="0.7" fill="none"/>
<path d="M0 509.5H974" stroke="#222" stroke-width="1" stroke-opacity="0.8" fill="none"/>
<path d="M486.5 494.6V510" stroke="#8a7a10" stroke-width="1.2" fill="none"/>
<path d="M48.7 509.5v2.5M535.7 509.5v2.5M97.4 509.5v2.5M584.4 509.5v2.5M146.1 509.5v2.5M633.1 509.5v2.5M194.8 509.5v2.5M681.8 509.5v2.5M243.5 509.5v2.5M730.5 509.5v2.5M292.2 509.5v2.5M779.2 509.5v2.5M340.9 509.5v2.5M827.9 509.5v2.5M389.6 509.5v2.5M876.6 509.5v2.5M438.3 509.5v2.5M925.3 509.5v2.5" stroke="#222" stroke-width="1" fill="none"/>
<text x="97.4" y="535.6" font-size="26.2" text-anchor="middle" fill="#000" stroke="#000" stroke-width="0.45">8</text>
<text x="194.8" y="535.6" font-size="26.2" text-anchor="middle" fill="#000" stroke="#000" stroke-width="0.45">30</text>
<text x="292.2" y="535.6" font-size="26.2" text-anchor="middle" fill="#000" stroke="#000" stroke-width="0.45">115</text>
<text x="389.6" y="535.6" font-size="26.2" text-anchor="middle" fill="#000" stroke="#000" stroke-width="0.45">457</text>
<text x="584.4" y="535.6" font-size="26.2" text-anchor="middle" fill="#000" stroke="#000" stroke-width="0.45">0.5</text>
<text x="681.8" y="535.6" font-size="26.2" text-anchor="middle" fill="#000" stroke="#000" stroke-width="0.45">2.4</text>
<text x="779.2" y="535.6" font-size="26.2" text-anchor="middle" fill="#000" stroke="#000" stroke-width="0.45">10.0</text>
<text x="876.6" y="535.6" font-size="26.2" text-anchor="middle" fill="#000" stroke="#000" stroke-width="0.45">40.4</text>
</svg></body></html>
